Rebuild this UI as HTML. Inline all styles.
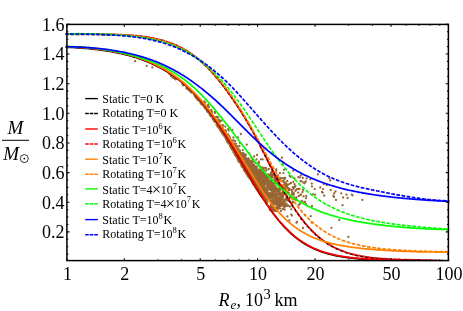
<!DOCTYPE html><html><head><meta charset="utf-8"><title>plot</title><style>html,body{margin:0;padding:0;background:#fff;width:463px;height:311px;overflow:hidden}</style></head><body><svg width="463" height="311" viewBox="0 0 463 311" style="position:absolute;left:0;top:0;display:block;will-change:transform">
<rect width="463" height="311" fill="#fff"/>
<defs><clipPath id="c"><rect x="65.3" y="24.4" width="384.3" height="236.2"/></clipPath></defs>
<g clip-path="url(#c)">
<path d="M237.6 156.0L238.8 158.0L239.9 160.0L241.1 162.0L242.2 164.0L243.4 166.0L244.5 168.0L245.7 170.0L246.8 172.0L248.0 174.0L249.1 176.0L250.3 178.0L251.4 180.0L252.6 182.0L253.8 184.0L255.0 186.0L256.2 188.0L257.4 190.0L258.6 192.0L259.8 194.0L261.1 196.0L262.4 198.0L266.2 198.0L267.5 196.0L268.4 194.0L268.1 192.0L266.7 190.0L265.4 188.0L264.0 186.0L262.7 184.0L261.2 182.0L259.6 180.0L258.1 178.0L256.5 176.0L255.0 174.0L253.5 172.0L251.9 170.0L250.3 168.0L248.7 166.0L247.1 164.0L245.5 162.0L243.9 160.0L242.3 158.0L240.7 156.0Z" fill="#996633"/>
<path d="M135.0 61.2h0M146.8 65.8h0M152.3 67.4h0M172.4 77.5h0M169.5 74.0h0M171.0 75.9h0M174.2 78.2h0M175.8 79.4h0M174.7 78.8h0M182.8 84.9h0M183.0 84.8h0M183.4 85.3h0M182.5 83.9h0M186.5 88.3h0M186.6 88.2h0M187.4 88.3h0M187.6 89.2h0M186.7 88.7h0M190.0 90.9h0M189.2 90.5h0M191.5 92.4h0M191.0 92.4h0M190.1 91.1h0M193.9 94.1h0M195.2 95.3h0M194.7 94.8h0M194.5 95.4h0M195.1 96.5h0M198.1 98.8h0M196.1 97.8h0M196.2 97.3h0M196.3 97.2h0M197.5 98.8h0M218.6 126.9h0M204.8 106.2h0M220.6 131.0h0M243.0 166.1h0M258.1 191.5h0M237.2 158.0h0M217.9 123.9h0M240.3 161.0h0M238.1 158.2h0M249.5 177.3h0M233.2 149.2h0M254.6 185.5h0M226.3 137.9h0M216.9 125.5h0M232.0 147.8h0M255.1 186.6h0M243.9 167.5h0M231.2 145.4h0M231.2 145.8h0M238.2 160.3h0M226.9 141.0h0M234.4 150.9h0M258.1 191.2h0M255.6 187.5h0M250.1 178.7h0M207.9 110.2h0M235.0 151.4h0M222.3 133.2h0M254.8 185.5h0M220.0 128.1h0M255.3 187.4h0M214.5 120.9h0M226.4 138.4h0M257.2 190.2h0M235.1 155.2h0M255.7 187.5h0M232.1 149.7h0M214.2 119.9h0M243.0 166.4h0M230.9 148.1h0M230.5 146.5h0M208.7 111.1h0M208.4 111.9h0M255.6 187.2h0M257.1 189.8h0M257.6 190.7h0M222.9 132.3h0M200.7 102.4h0M234.5 151.2h0M244.2 168.7h0M238.2 160.2h0M201.0 103.1h0M214.9 120.4h0M242.8 165.8h0M201.5 103.3h0M250.6 179.3h0M258.9 193.0h0M216.0 121.8h0M200.6 103.2h0M258.7 192.1h0M245.3 171.7h0M227.4 141.6h0M230.3 143.9h0M254.7 185.9h0M221.9 132.2h0M201.7 103.1h0M238.1 156.9h0M219.1 128.0h0M241.0 163.4h0M256.8 189.0h0M223.7 132.6h0M215.5 121.7h0M202.0 103.1h0M249.2 177.8h0M204.3 105.5h0M257.2 189.4h0M241.4 165.8h0M254.5 185.5h0M248.1 176.2h0M211.6 116.3h0M209.8 114.9h0M257.2 190.3h0M219.3 125.9h0M247.6 173.9h0M211.1 114.4h0M217.8 126.7h0M240.1 162.7h0M214.6 121.8h0M244.0 170.2h0M252.1 182.4h0M219.3 128.8h0M217.8 126.7h0M199.2 100.7h0M225.6 138.6h0M201.4 104.3h0M235.1 153.2h0M241.9 164.0h0M234.3 152.6h0M237.7 156.0h0M236.9 155.6h0M254.0 184.7h0M231.9 149.0h0M252.0 180.7h0M222.5 131.8h0M208.6 111.5h0M213.5 119.3h0M246.8 174.2h0M214.4 120.0h0M245.6 172.2h0M254.0 184.7h0M233.3 150.3h0M208.8 111.7h0M238.4 157.9h0M222.9 134.4h0M254.1 185.2h0M214.5 119.5h0M214.6 120.5h0M230.0 144.3h0M231.5 145.4h0M211.1 116.0h0M222.6 133.9h0M240.0 162.1h0M230.0 143.2h0M202.2 103.7h0M226.6 137.9h0M226.7 137.9h0M228.3 141.0h0M198.2 100.3h0M216.5 124.3h0M256.6 189.2h0M252.2 182.8h0M256.5 188.3h0M245.9 170.9h0M228.1 139.7h0M256.4 188.0h0M218.6 126.9h0M236.3 154.9h0M235.6 154.4h0M226.6 140.3h0M216.2 122.0h0M221.4 129.7h0M238.1 159.7h0M219.0 125.3h0M220.8 131.2h0M222.6 132.0h0M221.5 129.2h0M249.9 177.5h0M234.4 150.4h0M197.9 99.8h0M245.3 169.2h0M232.0 146.2h0M246.3 172.8h0M231.2 145.5h0M220.0 127.8h0M249.7 178.6h0M210.7 114.6h0M217.0 124.7h0M230.4 144.5h0M251.8 180.5h0M207.3 109.1h0M220.5 130.5h0M233.5 149.1h0M241.7 163.1h0M206.4 108.1h0M245.1 170.5h0M233.6 151.5h0M231.8 147.6h0M223.6 134.6h0M219.8 128.2h0M252.9 183.5h0M259.4 193.4h0M211.4 114.8h0M213.5 118.3h0M239.0 162.0h0M245.8 171.4h0M248.9 177.0h0M219.8 127.0h0M212.6 118.1h0M202.6 105.0h0M224.4 134.1h0M233.3 152.0h0M252.2 181.8h0M200.3 101.2h0M204.0 106.6h0M238.4 160.7h0M239.6 162.4h0M206.8 109.9h0M205.9 107.3h0M199.5 100.7h0M238.9 160.3h0M216.9 124.9h0M215.8 121.1h0M240.1 161.8h0M206.4 109.6h0M232.5 149.5h0M205.5 106.7h0M201.7 104.3h0M241.1 162.2h0M246.7 174.0h0M227.8 142.4h0M224.9 136.6h0M242.0 165.3h0M203.7 105.3h0M217.8 124.7h0M253.6 184.9h0M256.6 189.1h0M200.4 101.7h0M197.7 98.3h0M245.0 171.7h0M227.1 141.4h0M244.8 171.2h0M237.8 159.7h0M228.2 141.0h0M241.8 166.2h0M236.3 156.0h0M197.5 99.5h0M228.3 142.7h0M252.3 182.7h0M246.1 172.9h0M239.3 160.9h0M237.2 157.7h0M249.4 176.4h0M218.6 126.0h0M224.0 135.8h0M239.1 158.5h0M249.3 176.8h0M220.0 128.9h0M210.3 114.2h0M218.1 124.1h0M228.1 140.1h0M204.7 107.5h0M237.9 158.3h0M253.4 184.1h0M220.6 130.9h0M256.8 189.8h0M226.7 138.3h0M232.0 149.4h0M258.4 191.8h0M242.2 166.2h0M232.1 146.5h0M245.3 170.4h0M228.3 143.4h0M242.3 167.3h0M214.1 119.3h0M204.0 105.4h0M235.3 155.5h0M232.2 148.3h0M227.5 142.2h0M207.6 109.3h0M255.7 187.7h0M206.6 108.7h0M258.1 190.9h0M220.1 128.5h0M216.7 125.1h0M256.2 188.2h0M257.6 190.2h0M241.5 165.3h0M256.8 189.7h0M210.0 114.8h0M251.4 180.2h0M236.8 157.3h0M218.0 126.4h0M236.3 155.3h0M205.3 108.5h0M248.1 174.0h0M239.4 159.6h0M206.0 108.3h0M212.7 119.1h0M217.9 126.0h0M228.9 143.5h0M213.7 120.1h0M218.2 126.6h0M234.7 150.9h0M207.7 112.1h0M244.6 170.3h0M228.6 141.3h0M225.2 137.1h0M235.1 153.1h0M210.5 113.1h0M252.9 183.6h0M206.7 109.1h0M233.2 150.5h0M257.5 190.6h0M207.1 111.4h0M241.8 165.1h0M258.3 191.6h0M259.8 193.6h0M222.8 131.4h0M237.3 158.1h0M256.5 188.5h0M237.7 158.0h0M252.5 181.8h0M241.1 165.0h0M200.9 101.5h0M221.1 131.2h0M253.4 183.8h0M228.5 143.0h0M227.3 139.7h0M218.1 127.3h0M209.5 113.3h0M240.5 162.2h0M224.9 136.0h0M252.9 182.7h0M200.3 102.1h0M252.6 181.9h0M205.4 106.9h0M248.5 177.1h0M229.1 142.0h0M243.7 169.1h0M229.0 141.3h0M209.2 113.2h0M256.9 189.0h0M239.1 159.7h0M213.7 118.6h0M236.0 155.3h0M214.2 118.1h0M225.7 136.6h0M235.6 155.1h0M236.4 156.6h0M205.1 108.4h0M211.7 116.5h0M227.9 142.0h0M231.9 147.6h0M251.4 180.3h0M234.4 153.4h0M248.6 175.9h0M224.1 133.5h0M210.5 116.0h0M218.5 124.9h0M198.6 100.4h0M223.5 133.0h0M237.6 159.0h0M250.1 178.8h0M213.7 120.5h0M242.1 165.8h0M244.3 170.2h0M241.5 164.4h0M257.3 190.5h0M235.5 153.7h0M226.6 140.6h0M232.6 149.5h0M196.6 98.5h0M198.8 98.6h0M230.8 145.4h0M222.7 134.2h0M208.3 111.0h0M222.2 132.0h0M238.9 159.6h0M233.2 148.2h0M225.9 136.1h0M246.1 171.9h0M201.8 103.1h0M252.4 183.1h0M241.2 163.2h0M227.0 138.3h0M242.4 164.4h0M256.2 188.2h0M238.4 160.9h0M239.3 162.2h0M242.0 165.4h0M254.6 185.9h0M252.9 183.4h0M217.0 124.8h0M200.0 100.2h0M216.5 124.7h0M222.0 132.9h0M215.6 121.8h0M228.8 141.9h0M256.0 188.0h0M211.6 116.2h0M224.3 134.6h0M250.3 178.0h0M207.0 110.6h0M221.3 131.8h0M233.4 150.9h0M246.4 171.9h0M251.5 180.7h0M216.8 122.6h0M256.6 189.4h0M227.6 139.7h0M207.8 110.6h0M209.2 113.3h0M226.7 140.0h0M248.6 175.9h0M203.6 104.6h0M213.7 118.9h0M247.4 175.0h0M249.5 177.0h0M212.6 117.2h0M202.3 103.4h0M239.7 160.8h0M247.7 174.2h0M201.3 102.8h0M231.4 148.2h0M207.5 111.6h0M237.2 155.7h0M206.7 108.8h0M207.9 110.7h0M232.7 149.9h0M256.4 188.9h0M199.0 100.7h0M205.8 107.5h0M213.1 117.4h0M247.9 176.2h0M214.9 121.1h0M216.5 124.1h0M227.4 139.2h0M251.0 180.3h0M218.1 124.9h0M229.2 143.3h0M229.5 143.6h0M230.0 146.0h0M228.0 140.8h0M247.7 175.3h0M212.8 117.2h0M230.8 146.4h0M206.7 110.6h0M252.3 181.6h0M226.7 138.8h0M259.5 193.8h0M240.1 143.0h0M239.4 145.9h0M225.9 131.3h0M218.3 119.4h0M208.2 107.4h0M235.2 145.0h0M208.0 106.0h0M236.3 148.5h0M238.4 148.3h0M237.4 149.4h0M231.4 140.5h0M228.1 134.4h0M219.2 120.2h0M234.3 143.3h0M225.7 130.2h0M225.3 126.6h0M208.9 107.0h0M208.0 106.2h0M227.6 135.1h0M208.0 107.2h0M229.5 136.5h0M219.4 122.6h0M208.7 106.7h0M228.3 129.2h0M235.2 141.1h0M239.3 151.5h0M214.9 112.9h0M220.0 120.4h0M222.5 125.2h0M223.1 125.3h0M212.1 112.3h0M215.4 117.1h0M208.3 104.6h0M232.4 129.8h0M240.0 151.8h0M208.3 106.5h0M233.4 137.5h0M222.6 127.4h0M217.5 117.0h0M218.2 117.3h0M238.0 151.3h0M207.5 105.6h0M228.6 130.6h0M229.7 127.9h0M237.7 149.1h0M210.8 110.6h0M204.3 101.5h0M237.3 146.1h0M216.4 116.9h0M219.2 121.3h0M207.2 106.2h0M215.0 111.8h0M212.1 111.8h0M227.6 135.4h0M207.9 107.0h0M211.2 109.9h0M218.1 120.9h0M220.8 120.9h0M205.3 102.5h0M237.4 151.9h0M236.0 143.8h0M231.7 140.5h0M229.1 136.5h0M221.6 120.6h0M227.2 134.7h0M234.3 143.7h0M237.9 137.4h0M234.2 145.9h0M233.5 140.5h0M230.0 138.1h0M243.3 156.3h0M261.7 178.0h0M233.3 146.6h0M252.0 167.8h0M259.0 177.7h0M250.7 161.6h0M251.7 168.2h0M235.3 149.5h0M231.4 145.0h0M267.7 183.3h0M238.6 154.3h0M235.2 149.9h0M244.7 166.9h0M243.9 156.3h0M242.4 161.8h0M275.2 203.9h0M259.6 177.1h0M259.4 171.1h0M229.8 141.5h0M247.7 164.8h0M279.1 201.8h0M265.5 189.9h0M238.3 151.7h0M265.8 179.2h0M275.9 195.0h0M281.4 199.5h0M256.5 169.5h0M253.8 170.2h0M279.6 201.2h0M238.9 151.6h0M247.5 162.1h0M250.7 170.4h0M255.4 174.5h0M247.6 164.2h0M238.7 157.6h0M247.4 160.5h0M273.1 201.7h0M270.2 182.5h0M263.6 195.4h0M245.9 165.5h0M249.5 164.6h0M256.8 170.1h0M276.4 210.1h0M246.0 161.1h0M246.7 162.8h0M250.9 171.0h0M244.3 163.2h0M263.2 187.4h0M230.9 144.1h0M276.7 193.2h0M243.4 160.9h0M255.9 181.4h0M230.1 141.6h0M266.8 197.8h0M270.9 189.6h0M263.0 196.8h0M276.4 192.9h0M247.6 172.0h0M273.5 202.9h0M251.9 165.2h0M244.4 166.4h0M270.9 197.6h0M238.6 155.9h0M280.1 195.6h0M254.2 177.6h0M250.4 174.5h0M251.8 166.2h0M271.5 193.5h0M264.5 187.9h0M249.2 171.5h0M275.7 197.5h0M266.2 177.6h0M274.9 208.4h0M264.0 195.1h0M244.4 163.9h0M229.4 141.5h0M245.4 158.9h0M247.9 168.6h0M279.8 197.4h0M233.7 145.3h0M272.3 196.9h0M231.5 145.2h0M267.8 178.2h0M240.2 153.2h0M255.1 172.1h0M252.5 172.4h0M277.3 204.0h0M251.8 168.0h0M253.5 180.0h0M250.8 174.6h0M230.5 141.4h0M273.2 190.9h0M260.1 173.2h0M244.6 159.1h0M272.4 193.8h0M274.7 208.9h0M266.7 193.7h0M245.4 163.3h0M249.3 163.8h0M266.7 196.5h0M276.0 207.8h0M247.2 161.7h0M253.8 177.8h0M252.2 172.8h0M269.1 197.3h0M248.3 164.3h0M238.7 152.6h0M277.3 210.9h0M245.8 161.9h0M241.8 160.4h0M252.0 167.9h0M253.4 165.4h0M278.3 194.2h0M275.4 199.4h0M249.8 167.5h0M239.5 151.6h0M269.6 194.5h0M242.9 160.8h0M274.4 194.0h0M265.8 198.0h0M272.1 202.9h0M273.8 187.7h0M231.1 142.2h0M236.5 149.6h0M259.6 183.0h0M252.4 166.2h0M238.5 154.1h0M278.3 197.4h0M247.6 164.7h0M257.9 176.3h0M255.8 184.8h0M252.8 176.9h0M268.2 182.2h0M265.4 194.8h0M261.7 178.6h0M234.8 148.6h0M245.7 158.9h0M246.5 164.6h0M273.4 203.9h0M256.7 181.4h0M266.8 181.9h0M258.7 190.0h0M254.3 172.4h0M264.9 176.7h0M244.6 164.8h0M278.2 191.1h0M236.5 147.7h0M259.9 173.5h0M250.9 165.1h0M268.1 182.4h0M258.9 171.3h0M246.5 161.1h0M242.3 156.2h0M266.8 182.4h0M283.7 201.7h0M265.2 194.5h0M237.6 148.8h0M253.2 180.3h0M265.9 182.3h0M271.0 198.6h0M252.4 166.8h0M268.7 181.9h0M244.0 162.6h0M241.9 160.5h0M281.1 197.3h0M269.2 180.9h0M244.6 157.6h0M256.6 175.7h0M251.7 174.8h0M274.8 208.9h0M267.9 196.8h0M259.5 182.6h0M263.0 184.4h0M251.4 167.5h0M249.5 169.6h0M252.2 165.2h0M280.7 197.6h0M234.5 147.6h0M230.8 140.5h0M277.5 201.5h0M261.9 191.4h0M277.4 189.1h0M273.6 202.3h0M240.6 160.8h0M273.6 210.4h0M253.0 168.9h0M279.5 198.2h0M242.2 157.7h0M230.9 142.8h0M259.6 178.8h0M256.6 167.7h0M251.2 163.0h0M252.5 169.3h0M250.1 173.5h0M254.0 178.3h0M255.4 187.1h0M276.9 189.2h0M261.2 176.6h0M261.0 188.9h0M231.8 145.6h0M243.4 162.7h0M254.5 168.0h0M276.3 203.0h0M244.0 158.5h0M280.3 205.3h0M254.4 169.0h0M252.2 177.8h0M251.4 177.1h0M269.2 181.3h0M250.2 171.0h0M236.8 151.7h0M280.1 193.4h0M277.0 208.5h0M236.3 149.0h0M254.6 180.9h0M273.0 210.0h0M265.1 175.5h0M265.2 180.5h0M250.0 176.9h0M276.9 189.4h0M239.3 157.0h0M267.2 202.1h0M274.7 190.1h0M230.4 144.2h0M272.0 205.7h0M268.7 182.2h0M257.0 181.6h0M267.6 187.1h0M254.3 167.7h0M248.9 164.7h0M238.8 154.7h0M273.7 193.1h0M241.8 157.0h0M276.6 198.9h0M271.4 186.6h0M261.7 193.2h0M258.4 189.3h0M252.2 169.6h0M251.6 170.8h0M233.1 147.3h0M242.2 159.5h0M263.9 181.6h0M230.2 143.6h0M258.7 184.5h0M253.2 165.5h0M269.6 182.2h0M277.2 197.8h0M232.9 145.8h0M278.1 194.8h0M267.5 189.5h0M251.5 168.2h0M261.7 187.8h0M267.5 179.4h0M274.4 200.2h0M247.1 165.7h0M264.9 191.4h0M264.8 176.3h0M257.7 181.3h0M256.7 170.1h0M239.6 158.9h0M266.0 193.3h0M278.2 190.8h0M259.8 170.8h0M276.7 205.2h0M236.9 153.6h0M269.8 196.0h0M275.3 202.7h0M239.2 154.4h0M249.8 163.6h0M249.3 163.0h0M277.5 209.3h0M237.6 149.4h0M267.7 188.8h0M231.1 143.5h0M264.9 187.9h0M257.2 174.0h0M272.9 200.2h0M277.1 198.6h0M228.2 142.3h0M272.4 205.8h0M270.4 186.2h0M264.0 185.4h0M253.9 166.8h0M283.5 199.8h0M260.9 176.0h0M271.0 209.9h0M243.0 163.1h0M270.5 198.4h0M237.0 149.4h0M268.6 181.5h0M266.7 181.0h0M255.6 170.8h0M253.2 178.5h0M255.1 168.9h0M237.5 153.2h0M270.0 196.8h0M270.8 181.9h0M237.5 151.7h0M258.6 180.8h0M267.7 179.5h0M250.1 170.9h0M277.7 208.0h0M250.9 165.6h0M280.9 199.3h0M253.8 169.0h0M263.8 189.7h0M238.3 154.1h0M277.1 197.4h0M264.8 179.9h0M244.5 164.5h0M260.3 176.7h0M267.5 193.0h0M244.4 162.7h0M250.3 175.8h0M246.9 159.5h0M276.2 200.8h0M237.8 154.0h0M234.4 146.3h0M245.6 163.2h0M267.1 180.3h0M252.9 179.3h0M231.5 145.6h0M251.2 168.9h0M263.8 177.7h0M268.2 180.9h0M277.7 207.7h0M237.6 152.4h0M258.1 177.3h0M241.0 155.0h0M232.1 145.5h0M267.4 198.1h0M277.2 196.1h0M266.2 182.7h0M270.0 207.5h0M255.0 166.4h0M268.0 183.3h0M254.5 176.1h0M258.8 190.2h0M257.4 187.2h0M243.5 164.0h0M258.9 180.9h0M240.6 156.7h0M237.5 152.4h0M277.0 199.9h0M264.4 180.3h0M230.1 141.7h0M273.5 191.1h0M250.9 165.3h0M275.7 191.7h0M245.0 166.8h0M241.1 156.7h0M247.9 161.3h0M245.5 164.8h0M269.9 182.2h0M246.7 165.7h0M269.5 188.5h0M232.1 145.0h0M271.1 195.0h0M261.9 177.8h0M280.4 203.2h0M281.7 202.5h0M247.0 164.6h0M254.6 167.8h0M276.8 210.8h0M256.3 181.6h0M235.7 147.9h0M247.8 160.6h0M266.6 186.6h0M273.4 184.8h0M261.6 172.3h0M250.1 162.7h0M281.4 200.4h0M247.0 161.9h0M234.5 148.0h0M245.9 168.9h0M257.3 179.7h0M258.3 182.4h0M242.4 164.0h0M247.5 167.2h0M252.8 170.4h0M261.0 195.0h0M255.4 167.2h0M253.5 167.7h0M236.5 153.9h0M269.9 189.8h0M270.7 189.4h0M238.1 155.4h0M261.6 179.4h0M266.4 191.0h0M274.6 188.5h0M271.1 187.5h0M259.0 174.7h0M270.4 199.1h0M256.2 172.4h0M230.4 140.3h0M270.7 188.2h0M273.4 193.4h0M261.8 178.8h0M242.8 161.6h0M266.2 180.7h0M271.5 208.2h0M271.2 195.9h0M275.4 210.9h0M253.7 176.9h0M249.2 171.9h0M267.9 198.6h0M269.9 196.0h0M277.4 200.7h0M261.6 181.4h0M249.4 161.3h0M244.7 160.8h0M248.0 160.0h0M268.7 183.7h0M245.2 158.1h0M233.2 144.9h0M269.6 188.6h0M229.2 141.5h0M279.7 191.5h0M246.3 169.4h0M258.5 186.8h0M256.2 182.6h0M234.3 147.6h0M257.4 173.2h0M245.6 163.1h0M234.4 147.1h0M270.7 196.8h0M258.3 179.4h0M243.7 159.7h0M257.2 178.4h0M242.3 160.5h0M241.3 154.8h0M261.8 175.1h0M261.4 181.7h0M240.7 156.2h0M270.0 207.2h0M258.4 176.7h0M237.6 153.3h0M255.4 184.1h0M259.8 181.9h0M238.2 155.5h0M251.8 166.9h0M246.4 161.0h0M273.2 197.6h0M266.6 180.7h0M250.9 162.5h0M249.1 170.8h0M239.1 152.4h0M245.7 162.2h0M252.8 172.6h0M260.1 179.3h0M243.0 155.0h0M253.2 167.5h0M231.2 142.5h0M240.9 152.8h0M231.3 143.1h0M232.1 145.2h0M267.4 178.7h0M270.7 182.9h0M281.0 204.8h0M255.1 174.8h0M256.5 184.5h0M235.1 147.6h0M236.9 154.2h0M267.5 180.1h0M261.2 190.7h0M263.2 191.5h0M260.4 185.7h0M271.0 197.3h0M247.1 170.6h0M261.8 174.6h0M246.9 172.5h0M249.6 175.7h0M262.1 180.9h0M253.7 170.4h0M251.8 171.1h0M261.9 176.0h0M262.0 180.7h0M246.9 162.0h0M253.5 174.0h0M270.9 204.1h0M261.9 192.1h0M229.7 140.9h0M265.5 194.7h0M240.5 156.9h0M258.5 175.3h0M230.2 141.0h0M279.5 198.0h0M278.1 191.2h0M232.8 145.2h0M254.9 180.9h0M232.6 144.8h0M249.7 162.6h0M242.0 161.0h0M250.3 171.3h0M281.8 196.7h0M273.4 184.1h0M283.2 197.0h0M235.4 150.2h0M270.0 181.3h0M251.9 169.5h0M261.3 179.5h0M263.8 186.8h0M279.1 194.6h0M236.4 150.4h0M243.1 162.1h0M267.0 197.1h0M266.1 199.2h0M242.7 156.3h0M250.3 166.9h0M250.9 178.3h0M262.7 179.6h0M263.9 192.2h0M271.5 189.8h0M269.9 201.1h0M265.8 198.4h0M280.0 206.0h0M245.9 161.2h0M280.3 193.1h0M275.3 189.5h0M239.3 155.0h0M267.9 186.1h0M279.8 192.8h0M254.5 173.3h0M236.9 149.9h0M270.5 206.7h0M246.2 166.2h0M255.1 170.7h0M265.3 188.0h0M233.5 147.3h0M233.9 146.0h0M250.2 166.1h0M272.0 182.7h0M281.7 202.1h0M255.3 176.3h0M237.0 152.7h0M229.4 140.0h0M273.4 199.1h0M276.3 194.6h0M273.8 191.9h0M252.4 167.1h0M241.7 158.6h0M269.8 196.3h0M247.7 170.5h0M255.5 175.1h0M240.3 153.4h0M274.1 197.1h0M266.7 178.3h0M270.8 206.9h0M251.9 173.2h0M242.5 162.2h0M267.6 191.0h0M279.3 191.6h0M256.7 171.8h0M276.2 200.0h0M259.6 170.8h0M243.5 163.0h0M233.8 149.0h0M272.3 202.7h0M244.4 159.2h0M281.4 197.0h0M279.2 203.4h0M267.3 198.5h0M265.7 197.4h0M234.4 146.8h0M271.5 204.5h0M266.8 192.3h0M253.9 175.2h0M239.7 153.6h0M255.2 168.5h0M241.4 156.2h0M282.1 197.6h0M237.3 150.2h0M235.5 148.3h0M252.9 170.2h0M237.9 150.6h0M247.0 159.0h0M253.2 175.4h0M248.5 160.5h0M257.9 174.3h0M235.8 147.8h0M254.9 172.8h0M256.6 174.0h0M237.8 153.9h0M281.5 195.0h0M247.6 162.1h0M239.2 158.1h0M243.9 158.5h0M271.3 209.3h0M261.2 196.4h0M256.6 173.8h0M281.9 196.8h0M268.4 181.8h0M270.0 186.9h0M243.1 160.0h0M276.8 191.3h0M260.1 174.1h0M253.8 174.8h0M273.2 207.3h0M251.5 177.8h0M273.2 183.6h0M261.9 173.3h0M274.5 201.5h0M255.5 183.6h0M241.1 161.2h0M239.0 155.2h0M254.0 171.1h0M277.5 198.3h0M273.1 198.2h0M259.2 170.9h0M238.5 153.4h0M255.3 170.8h0M253.6 168.3h0M280.7 204.5h0M264.0 198.7h0M274.9 188.1h0M273.8 185.8h0M262.0 185.4h0M271.6 189.4h0M275.8 197.3h0M256.5 177.3h0M277.0 195.8h0M265.2 189.8h0M264.8 181.5h0M281.6 193.7h0M269.6 184.2h0M242.9 160.2h0M265.8 199.3h0M262.1 174.3h0M250.2 168.3h0M267.2 186.5h0M237.2 154.6h0M271.4 209.5h0M266.2 179.3h0M243.8 163.4h0M265.0 183.9h0M272.4 209.2h0M256.4 171.5h0M259.6 170.6h0M273.1 205.2h0M241.9 160.4h0M262.4 192.3h0M242.6 157.5h0M249.3 169.2h0M252.0 179.0h0M254.2 176.5h0M242.3 155.9h0M267.8 189.0h0M268.8 199.8h0M279.2 201.8h0M271.7 188.6h0M252.2 166.2h0M245.4 167.5h0M240.7 159.1h0M241.1 160.9h0M239.9 155.4h0M244.7 165.0h0M278.9 205.9h0M281.8 205.5h0M251.2 163.3h0M271.5 200.8h0M258.2 173.8h0M245.7 165.6h0M277.5 209.4h0M247.1 167.1h0M272.0 188.7h0M250.5 166.4h0M268.1 198.1h0M269.4 197.0h0M238.8 150.2h0M268.0 184.7h0M254.8 171.2h0M232.3 146.2h0M246.0 165.7h0M273.9 195.2h0M259.4 183.8h0M266.5 200.7h0M233.4 146.3h0M267.2 178.1h0M239.3 154.5h0M279.0 199.7h0M265.8 194.9h0M240.2 159.5h0M255.9 169.0h0M271.6 206.8h0M263.7 194.9h0M273.9 209.5h0M245.6 157.7h0M283.2 204.3h0M259.8 194.6h0M249.1 162.4h0M248.0 162.9h0M245.8 162.6h0M274.6 188.1h0M242.4 164.2h0M259.0 171.8h0M237.9 153.4h0M264.5 179.6h0M266.3 203.5h0M237.5 153.4h0M255.0 172.5h0M270.2 185.3h0M253.2 169.7h0M235.4 146.3h0M258.1 177.6h0M267.0 177.9h0M266.5 183.8h0M237.1 150.8h0M251.9 165.7h0M277.1 194.4h0M279.3 193.3h0M275.0 196.4h0M244.9 162.9h0M248.0 160.9h0M250.6 174.1h0M273.8 195.3h0M253.9 177.3h0M271.7 184.0h0M253.5 175.2h0M253.0 170.8h0M267.3 193.5h0M259.5 175.3h0M271.1 202.7h0M265.0 182.4h0M257.6 170.0h0M278.8 199.3h0M248.9 173.4h0M258.8 189.3h0M268.7 185.2h0M260.1 179.4h0M236.6 151.1h0M236.6 149.8h0M235.8 147.0h0M253.7 175.1h0M249.2 162.6h0M274.1 197.1h0M247.4 166.2h0M263.0 175.2h0M249.9 166.7h0M280.2 199.4h0M244.9 162.7h0M241.9 155.6h0M243.0 164.0h0M262.1 192.9h0M242.1 155.0h0M243.9 166.4h0M282.4 198.6h0M270.1 189.9h0M236.2 153.7h0M276.9 197.5h0M275.0 201.7h0M255.3 169.7h0M267.5 193.3h0M263.5 193.5h0M239.6 155.8h0M239.3 159.1h0M255.2 184.8h0M261.5 189.8h0M259.8 189.9h0M269.2 182.3h0M257.6 171.3h0M272.8 197.7h0M277.8 203.3h0M238.8 153.9h0M262.9 182.0h0M261.3 176.5h0M255.3 173.5h0M231.3 142.9h0M242.2 158.6h0M239.8 158.1h0M253.2 166.6h0M270.3 182.5h0M276.2 196.3h0M234.1 145.8h0M243.5 161.9h0M270.8 193.7h0M249.4 161.5h0M242.4 155.7h0M252.2 174.0h0M263.5 175.7h0M271.8 191.0h0M242.2 158.8h0M280.6 206.0h0M278.6 203.6h0M275.0 197.1h0M249.8 164.9h0M250.9 169.6h0M233.1 146.1h0M279.4 194.4h0M261.8 184.5h0M280.8 193.5h0M272.6 188.3h0M246.5 169.9h0M254.9 182.4h0M256.5 180.7h0M236.8 151.2h0M242.9 156.6h0M243.6 157.7h0M264.4 183.4h0M255.4 179.0h0M245.0 164.7h0M259.8 180.0h0M266.7 197.8h0M261.4 172.6h0M271.0 193.2h0M255.6 177.3h0M261.3 178.8h0M238.8 152.2h0M267.0 198.5h0M244.5 161.8h0M278.5 208.2h0M242.8 159.2h0M273.1 191.5h0M237.5 151.1h0M263.9 199.0h0M243.5 158.7h0M230.5 144.2h0M249.5 163.8h0M252.7 166.2h0M248.1 160.5h0M239.0 156.1h0M268.4 180.4h0M245.0 162.8h0M256.5 173.6h0M272.7 185.3h0M258.8 175.0h0M271.9 190.7h0M234.0 145.2h0M236.0 150.9h0M229.3 140.5h0M279.9 199.7h0M246.0 168.8h0M251.9 165.7h0M257.6 183.0h0M249.1 163.5h0M243.6 162.1h0M255.6 175.9h0M256.1 167.7h0M255.5 182.9h0M245.4 161.4h0M273.0 208.2h0M230.6 144.5h0M244.6 157.3h0M282.1 198.4h0M245.4 166.3h0M267.5 186.6h0M261.3 185.7h0M230.5 142.3h0M241.7 157.9h0M281.4 202.9h0M246.2 159.7h0M238.1 154.0h0M238.3 153.6h0M257.8 182.1h0M242.1 156.4h0M249.2 161.4h0M264.1 182.7h0M259.6 175.5h0M243.0 156.4h0M265.6 176.3h0M257.2 172.6h0M272.1 184.9h0M274.2 210.0h0M270.1 210.0h0M262.0 193.7h0M245.7 168.5h0M266.8 203.4h0M256.7 183.1h0M273.5 200.2h0M265.6 178.7h0M279.3 198.7h0M263.1 198.3h0M255.1 166.7h0M250.5 176.8h0M244.1 162.5h0M279.1 203.0h0M279.3 201.1h0M275.5 194.4h0M265.1 196.1h0M279.7 203.5h0M251.7 171.3h0M274.9 185.9h0M257.0 170.4h0M268.1 193.5h0M272.3 186.2h0M246.4 165.2h0M249.9 172.2h0M242.8 161.8h0M275.1 189.7h0M255.3 169.4h0M239.4 154.2h0M273.3 191.7h0M246.9 161.3h0M245.5 160.6h0M260.6 187.0h0M241.0 154.4h0M268.6 180.2h0M267.5 179.4h0M256.0 172.3h0M260.7 176.3h0M278.2 197.3h0M253.3 164.8h0M279.0 198.8h0M266.7 180.5h0M253.4 181.8h0M233.8 145.4h0M238.8 155.1h0M267.4 182.9h0M245.7 165.9h0M256.8 170.1h0M276.5 209.6h0M267.1 183.3h0M277.7 204.9h0M240.0 158.6h0M247.3 159.9h0M267.9 197.5h0M262.9 174.3h0M277.1 196.9h0M276.7 199.4h0M241.3 154.2h0M256.3 169.6h0M269.4 207.0h0M271.0 202.4h0M241.0 158.9h0M283.4 202.5h0M236.0 153.1h0M265.2 200.2h0M268.5 184.6h0M238.9 156.0h0M279.3 197.7h0M238.3 155.0h0M245.7 158.4h0M261.4 182.9h0M264.1 184.7h0M239.4 152.7h0M256.7 178.9h0M272.5 185.8h0M247.5 164.3h0M236.0 150.1h0M253.9 168.9h0M269.5 193.0h0M229.2 141.7h0M276.4 200.0h0M247.8 161.0h0M254.1 164.7h0M246.2 167.9h0M264.2 181.3h0M263.8 189.0h0M261.3 173.3h0M241.9 154.7h0M255.2 182.0h0M254.2 174.9h0M235.8 152.7h0M252.7 176.6h0M252.1 168.9h0M263.3 191.4h0M282.7 196.9h0M258.3 181.7h0M253.4 165.4h0M258.9 176.8h0M255.8 168.8h0M281.0 195.6h0M260.4 174.1h0M256.1 184.4h0M277.2 205.8h0M268.6 195.3h0M271.8 189.0h0M239.8 156.1h0M260.1 175.9h0M249.7 167.9h0M277.0 205.9h0M248.3 163.1h0M271.8 202.6h0M249.2 173.1h0M232.8 143.9h0M279.6 194.3h0M275.8 195.0h0M255.1 178.6h0M242.3 156.1h0M253.3 176.5h0M273.4 199.7h0M264.6 194.5h0M246.7 168.9h0M245.5 168.1h0M254.8 170.4h0M246.5 167.4h0M236.8 154.8h0M255.1 173.1h0M253.3 165.6h0M243.1 155.6h0M266.8 201.9h0M253.7 183.8h0M257.6 174.6h0M234.9 148.2h0M247.7 166.3h0M265.5 184.4h0M272.8 198.0h0M271.8 182.9h0M262.9 174.6h0M276.2 187.5h0M277.0 196.6h0M252.5 179.2h0M253.9 169.3h0M270.4 210.3h0M278.1 202.0h0M271.4 182.3h0M270.1 185.2h0M237.4 151.4h0M238.0 154.0h0M261.3 174.2h0M232.4 144.4h0M246.9 169.3h0M279.4 198.6h0M263.2 193.7h0M244.1 166.8h0M252.3 170.3h0M266.5 191.1h0M263.7 174.7h0M259.4 174.6h0M257.9 187.1h0M236.3 152.2h0M252.2 164.0h0M263.5 189.0h0M278.4 207.0h0M253.5 166.4h0M257.5 173.5h0M237.2 151.7h0M278.6 198.1h0M230.1 142.0h0M265.7 194.5h0M230.1 141.8h0M273.1 210.5h0M274.6 209.9h0M233.7 146.3h0M244.0 163.2h0M273.5 189.3h0M235.2 146.9h0M272.2 206.0h0M261.5 182.5h0M245.6 158.5h0M252.3 167.7h0M264.8 188.4h0M250.7 167.0h0M261.4 180.2h0M282.1 197.5h0M252.6 175.6h0M238.4 151.8h0M271.2 186.4h0M255.1 184.1h0M237.5 151.7h0M264.0 175.5h0M250.2 162.8h0M256.7 176.9h0M255.2 182.1h0M230.0 141.2h0M245.7 159.2h0M231.3 141.2h0M273.6 187.4h0M250.6 165.3h0M270.6 190.1h0M237.4 151.6h0M262.8 176.6h0M231.6 141.9h0M256.9 168.7h0M267.1 192.7h0M278.5 201.7h0M270.4 189.4h0M230.0 140.1h0M253.6 165.0h0M249.8 166.9h0M280.0 203.7h0M242.5 154.6h0M253.2 182.1h0M266.9 180.6h0M260.0 184.1h0M270.8 205.1h0M241.2 155.6h0M247.3 169.4h0M272.1 200.8h0M256.0 186.7h0M278.7 207.7h0M258.0 183.1h0M233.9 148.9h0M252.2 172.3h0M256.9 182.1h0M245.5 159.1h0M268.9 193.5h0M247.9 162.5h0M250.1 166.4h0M235.9 152.6h0M264.6 177.4h0M268.9 186.9h0M264.8 197.7h0M255.0 179.6h0M239.1 156.7h0M262.3 177.3h0M272.9 194.3h0M272.5 208.3h0M255.5 186.3h0M281.3 196.2h0M277.4 206.8h0M271.3 196.2h0M272.5 195.9h0M240.8 158.1h0M249.1 164.8h0M272.4 197.8h0M248.2 168.6h0M264.0 186.7h0M243.7 158.8h0M269.9 207.1h0M231.6 142.5h0M275.8 200.9h0M264.8 191.7h0M280.6 195.8h0M255.4 176.3h0M257.4 176.2h0M261.2 179.8h0M251.0 167.8h0M258.3 185.4h0M267.4 196.2h0M271.6 188.8h0M251.1 165.1h0M266.1 196.1h0M264.9 191.2h0M271.9 191.2h0M264.8 184.5h0M257.5 173.0h0M251.4 173.2h0M254.7 170.3h0M232.4 145.0h0M239.9 157.8h0M251.5 175.2h0M272.9 196.7h0M271.8 205.3h0M259.0 171.6h0M251.3 174.6h0M261.7 190.2h0M268.7 195.2h0M247.1 162.3h0M270.3 184.3h0M238.1 151.9h0M274.6 188.3h0M253.0 175.1h0M254.9 166.6h0M265.3 193.0h0M269.9 184.5h0M236.9 153.7h0M270.9 196.4h0M266.9 191.3h0M247.9 167.0h0M248.6 164.1h0M266.0 177.3h0M265.6 193.9h0M259.2 177.9h0M267.0 194.3h0M242.2 162.8h0M277.6 195.0h0M243.5 162.4h0M273.9 208.7h0M280.6 202.7h0M244.1 160.1h0M258.7 190.9h0M254.1 174.1h0M276.3 191.1h0M243.1 164.7h0M274.3 200.3h0M273.8 186.0h0M277.2 206.3h0M244.9 158.1h0M235.1 149.4h0M256.7 168.7h0M252.9 168.2h0M257.1 172.9h0M275.4 196.7h0M275.3 208.5h0M253.4 169.2h0M271.7 188.9h0M278.8 192.1h0M232.9 145.1h0M239.6 154.5h0M238.5 155.1h0M244.5 157.1h0M266.2 191.5h0M282.7 199.3h0M261.6 179.2h0M262.7 193.6h0M255.7 175.2h0M257.3 183.6h0M243.8 157.9h0M253.4 176.4h0M250.0 164.5h0M253.0 172.9h0M236.3 150.5h0M263.2 173.8h0M246.9 162.2h0M265.1 191.1h0M258.1 184.8h0M249.9 170.3h0M251.7 164.1h0M276.9 210.9h0M265.6 197.0h0M272.7 194.1h0M248.2 170.5h0M265.1 191.9h0M267.0 183.5h0M258.8 179.2h0M238.0 155.0h0M236.2 150.6h0M254.4 180.4h0M231.4 142.4h0M247.7 166.8h0M245.6 161.7h0M259.3 177.6h0M262.9 193.0h0M241.6 162.2h0M242.2 158.2h0M271.7 187.5h0M263.1 189.6h0M263.0 183.2h0M230.7 141.3h0M249.6 175.1h0M268.6 183.4h0M266.7 180.6h0M243.0 156.3h0M242.8 161.3h0M265.8 182.9h0M242.7 160.5h0M234.9 147.4h0M280.0 206.2h0M263.0 183.8h0M244.0 157.2h0M241.8 158.8h0M259.5 177.9h0M278.3 200.9h0M267.9 196.8h0M228.8 140.4h0M253.9 182.3h0M275.0 210.9h0M257.9 173.4h0M262.7 187.6h0M257.0 181.5h0M240.9 155.5h0M249.7 165.3h0M241.9 156.2h0M267.5 199.1h0M235.0 147.4h0M269.1 195.4h0M266.6 182.1h0M257.9 175.4h0M251.6 176.3h0M229.4 140.4h0M256.6 172.5h0M256.3 171.0h0M268.0 179.7h0M254.1 182.1h0M250.1 163.5h0M261.2 183.3h0M252.2 179.3h0M270.4 181.6h0M258.7 170.5h0M244.9 165.1h0M252.4 176.6h0M231.9 143.8h0M258.0 183.4h0M240.4 154.9h0M279.1 201.6h0M272.0 192.2h0M269.9 188.1h0M235.4 149.3h0M253.4 173.6h0M251.9 169.0h0M231.6 143.1h0M248.5 168.4h0M274.1 206.5h0M246.9 169.6h0M258.9 182.3h0M281.5 199.0h0M257.6 177.1h0M255.7 178.5h0M259.5 180.4h0M271.3 183.2h0M271.1 205.8h0M250.3 171.7h0M240.3 159.9h0M240.3 156.3h0M241.5 157.8h0M249.1 162.7h0M266.3 177.7h0M259.7 170.2h0M239.7 155.5h0M265.7 189.1h0M267.8 197.0h0M246.7 165.8h0M256.9 171.2h0M270.9 186.7h0M256.5 185.3h0M282.0 205.2h0M259.8 187.7h0M252.2 175.9h0M264.5 194.6h0M244.4 167.1h0M274.0 209.7h0M253.5 174.6h0M268.4 195.2h0M271.4 209.3h0M262.3 175.4h0M247.1 160.7h0M249.2 164.2h0M279.1 205.6h0M254.3 173.9h0M280.0 195.1h0M282.3 203.1h0M263.3 180.0h0M239.5 152.0h0M242.9 158.9h0M255.9 182.5h0M272.1 195.4h0M233.7 148.0h0M260.6 186.4h0M280.1 200.8h0M241.9 160.3h0M267.5 185.6h0M261.1 171.8h0M282.3 202.5h0M239.3 153.9h0M260.8 185.3h0M236.7 151.0h0M257.5 169.5h0M246.9 164.1h0M292.6 194.7h0M270.1 177.2h0M243.3 153.2h0M283.1 208.7h0M251.4 157.6h0M254.2 156.4h0M278.1 175.3h0M283.7 194.8h0M251.1 161.2h0M270.9 173.1h0M253.2 161.8h0M282.6 190.3h0M293.0 201.9h0M283.2 193.8h0M267.3 175.4h0M249.2 153.3h0M284.7 193.2h0M258.7 163.9h0M275.2 183.3h0M271.1 178.3h0M249.2 160.0h0M267.9 176.0h0M243.6 153.3h0M282.6 209.1h0M282.4 189.0h0M280.4 177.9h0M280.2 187.8h0M291.3 209.3h0M243.7 154.5h0M258.8 161.7h0M280.0 208.4h0M250.6 161.5h0M282.7 191.8h0M252.4 159.9h0M270.4 178.1h0M262.4 172.3h0M306.2 204.1h0M264.2 173.3h0M288.4 199.1h0M282.0 193.7h0M292.0 194.0h0M275.3 180.6h0M260.9 167.7h0M263.0 172.2h0M261.8 169.9h0M262.9 172.6h0M279.5 188.8h0M284.7 205.1h0M248.5 159.8h0M244.7 155.2h0M256.0 166.4h0M282.0 193.1h0M284.7 193.5h0M270.2 174.6h0M284.2 186.0h0M287.1 200.1h0M268.4 177.4h0M284.6 207.0h0M271.2 180.7h0M245.9 154.6h0M290.0 196.7h0M286.0 198.5h0M279.1 189.9h0M284.5 179.2h0M263.1 168.7h0M244.9 154.7h0M277.7 183.9h0M283.3 205.9h0M271.1 172.9h0M242.7 150.2h0M270.5 178.4h0M248.5 158.4h0M259.7 169.7h0M285.2 201.4h0M259.8 166.4h0M280.0 189.7h0M284.7 204.0h0M240.0 151.3h0M239.5 150.3h0M289.2 200.5h0M285.2 199.2h0M285.2 184.8h0M285.2 206.4h0M274.7 182.4h0M287.1 205.9h0M278.2 179.0h0M262.6 159.4h0M241.4 153.2h0M252.4 162.4h0M262.1 168.4h0M256.8 166.7h0M283.4 204.8h0M255.6 162.8h0M283.7 204.6h0M263.7 173.5h0M268.8 169.0h0M271.4 174.5h0M288.0 205.7h0M278.3 188.7h0M245.4 156.0h0M286.5 203.7h0M271.7 180.5h0M270.9 177.2h0M284.1 192.1h0M243.9 155.6h0M320.3 187.5h0M291.2 214.6h0M294.5 184.1h0M299.8 177.6h0M284.0 169.8h0M299.4 189.1h0M294.2 197.4h0M301.1 194.3h0M300.8 175.4h0M281.4 188.8h0M284.9 193.4h0M278.1 177.8h0M314.8 189.1h0M298.5 188.9h0M291.7 190.1h0M284.6 185.2h0M294.3 178.5h0M295.3 199.5h0M284.7 182.6h0M276.3 169.3h0M259.0 162.7h0M293.3 194.6h0M289.5 183.9h0M284.7 190.6h0M300.8 175.6h0M298.8 204.9h0M286.6 186.9h0M284.7 188.1h0M300.3 195.2h0M292.0 215.6h0M284.7 209.7h0M271.8 171.5h0M287.8 192.9h0M274.1 180.1h0M272.7 175.5h0M277.8 176.4h0M286.8 196.5h0M276.9 178.4h0M305.3 181.9h0M285.5 188.9h0M279.9 173.1h0M303.6 182.7h0M290.0 206.5h0M283.8 189.3h0M302.5 192.0h0M285.6 185.6h0M293.2 170.7h0M290.3 189.6h0M281.9 185.4h0M293.3 181.8h0M290.6 176.8h0M275.0 176.1h0M288.0 200.7h0M292.7 201.7h0M283.0 181.0h0M306.2 196.0h0M326.7 185.1h0M277.2 182.8h0M305.8 181.4h0M274.3 177.6h0M323.1 189.1h0M301.8 181.4h0M278.1 180.1h0M287.0 188.2h0M285.1 177.9h0M289.9 195.6h0M303.5 196.4h0M288.9 198.5h0M296.1 198.2h0M272.3 177.5h0M304.5 183.3h0M280.2 179.3h0M289.1 188.6h0M287.3 216.4h0M288.7 190.3h0M292.4 202.9h0M287.3 185.8h0M276.1 171.1h0M277.0 175.6h0M286.1 189.1h0M299.5 189.0h0M292.1 191.9h0M296.5 197.3h0M278.8 185.5h0M306.6 178.5h0M271.4 175.6h0M277.9 183.5h0M266.4 169.4h0M271.8 173.0h0M277.0 179.0h0M294.4 199.2h0M333.5 196.0h0M275.3 178.9h0M271.2 173.2h0M289.6 175.8h0M298.2 192.7h0M282.1 188.8h0M263.9 170.5h0M278.3 184.0h0M324.2 195.7h0M256.5 159.4h0M298.3 177.1h0M293.6 193.0h0M261.1 168.4h0M279.2 184.4h0M286.0 194.1h0M262.0 167.4h0M303.1 189.9h0M273.5 174.3h0M271.6 167.4h0M288.0 188.1h0M295.0 186.3h0M270.5 177.4h0M293.7 194.0h0M275.7 180.7h0M329.4 178.2h0M277.1 178.6h0M310.4 179.3h0M330.7 190.0h0M283.5 187.2h0M286.4 183.8h0M279.6 185.2h0M306.0 198.2h0M295.4 190.9h0M268.2 174.5h0M297.1 189.2h0M263.4 169.2h0M275.1 175.3h0M266.3 170.7h0M288.7 192.9h0M301.8 201.0h0M287.8 184.9h0M294.0 194.4h0M283.6 186.6h0M289.0 190.2h0M285.7 205.3h0M284.5 192.2h0M296.4 189.8h0M312.8 194.4h0M315.1 194.7h0M300.1 203.7h0M265.8 167.8h0M280.7 178.6h0M296.6 200.2h0M283.8 181.4h0M283.5 173.1h0M312.0 186.4h0M304.2 201.9h0M274.1 172.9h0M334.1 193.4h0M280.1 180.2h0M288.2 193.6h0M285.6 182.7h0M311.8 183.6h0M286.5 191.1h0M291.4 198.0h0M293.4 189.1h0M292.7 187.1h0M284.3 183.1h0M289.1 189.4h0M322.8 192.6h0M335.5 191.5h0M293.1 187.6h0M310.7 216.2h0M302.8 177.9h0M300.6 181.2h0M295.4 185.9h0M275.5 176.7h0M284.2 186.6h0M264.1 167.9h0M294.8 187.3h0M277.7 182.6h0M265.8 155.7h0M305.1 201.9h0M269.7 176.2h0M287.3 181.0h0M291.0 182.9h0M285.1 192.1h0M273.5 175.1h0M298.8 196.1h0M271.0 177.0h0M279.4 184.8h0M282.6 178.1h0M283.7 178.3h0M276.9 181.0h0M282.2 186.6h0M240.9 134.0h0M246.7 144.7h0M257.1 155.0h0M261.0 159.3h0M281.9 157.7h0M282.7 164.3h0M317.9 174.4h0M330.2 180.5h0M323.7 184.0h0M341.2 193.3h0M346.5 194.6h0M351.8 194.6h0M342.6 205.2h0M362.3 199.9h0M352.6 195.3h0M280.9 211.0h0M289.3 220.3h0M297.0 222.0h0M311.8 222.5h0M331.5 227.8h0M348.3 236.9h0M301.0 218.6h0M303.0 228.0h0M296.5 222.7h0M339.2 220.0h0M312.0 206.0h0M305.0 215.0h0M322.0 192.0h0M334.0 197.0h0M336.0 200.0h0M343.0 197.5h0M347.6 198.0h0" stroke="#996633" stroke-width="2.3" stroke-linecap="round" fill="none"/>
<path d="M65.5 47.2L66.5 47.2L67.5 47.3L68.5 47.3L69.5 47.4L70.5 47.4L71.5 47.4L72.5 47.5L73.5 47.5L74.5 47.6L75.5 47.7L76.5 47.7L77.5 47.8L78.5 47.8L79.5 47.9L80.5 48.0L81.5 48.0L82.5 48.1L83.5 48.2L84.5 48.3L85.5 48.4L86.5 48.4L87.5 48.5L88.5 48.6L89.5 48.7L90.5 48.8L91.5 48.9L92.5 49.0L93.5 49.1L94.5 49.3L95.5 49.4L96.5 49.5L97.5 49.6L98.5 49.7L99.5 49.9L100.5 50.0L101.5 50.1L102.5 50.3L103.5 50.4L104.5 50.6L105.5 50.7L106.5 50.9L107.5 51.0L108.5 51.2L109.5 51.4L110.5 51.5L111.5 51.7L112.5 51.9L113.5 52.1L114.5 52.3L115.5 52.5L116.5 52.7L117.5 52.9L118.5 53.1L119.5 53.3L120.5 53.5L121.5 53.7L122.5 54.0L123.5 54.2L124.5 54.4L125.5 54.7L126.5 54.9L127.5 55.2L128.5 55.5L129.5 55.7L130.5 56.0L131.5 56.3L132.5 56.6L133.5 56.9L134.5 57.2L135.5 57.5L136.5 57.8L137.5 58.1L138.5 58.5L139.5 58.8L140.5 59.2L141.5 59.5L142.5 59.9L143.5 60.3L144.5 60.6L145.5 61.0L146.5 61.4L147.5 61.8L148.5 62.2L149.5 62.6L150.5 63.1L151.5 63.5L152.5 64.0L153.5 64.4L154.5 64.9L155.5 65.4L156.5 65.9L157.5 66.4L158.5 66.9L159.5 67.4L160.5 67.9L161.5 68.5L162.5 69.0L163.5 69.6L164.5 70.2L165.5 70.7L166.5 71.3L167.5 72.0L168.5 72.6L169.5 73.2L170.5 73.9L171.5 74.5L172.5 75.2L173.5 75.9L174.5 76.6L175.5 77.3L176.5 78.1L177.5 78.8L178.5 79.6L179.5 80.4L180.5 81.2L181.5 82.0L182.5 82.8L183.5 83.6L184.5 84.5L185.5 85.4L186.5 86.3L187.5 87.2L188.5 88.1L189.5 89.0L190.5 90.0L191.5 91.0L192.5 92.0L193.5 93.0L194.5 94.0L195.5 95.0L196.5 96.1L197.5 97.2L198.5 98.3L199.5 99.4L200.5 100.6L201.5 101.7L202.5 102.9L203.5 104.1L204.5 105.3L205.5 106.6L206.5 107.8L207.5 109.1L208.5 110.4L209.5 111.7L210.5 113.0L211.5 114.4L212.5 115.7L213.5 117.1L214.5 118.5L215.5 120.0L216.5 121.4L217.5 122.9L218.5 124.4L219.5 125.8L220.5 127.4L221.5 128.9L222.5 130.4L223.5 132.0L224.5 133.6L225.5 135.2L226.5 136.8L227.5 138.4L228.5 140.0L229.5 141.7L230.5 143.3L231.5 145.0L232.5 146.7L233.5 148.4L234.5 150.1L235.5 151.8L236.5 153.5L237.5 155.2L238.5 157.0L239.5 158.7L240.5 160.5L241.5 162.2L242.5 163.9L243.5 165.7L244.5 167.4L245.5 169.2L246.5 170.9L247.5 172.7L248.5 174.4L249.5 176.1L250.5 177.9L251.5 179.6L252.5 181.3L253.5 183.0L254.5 184.7L255.5 186.4L256.5 188.1L257.5 189.7L258.5 191.4L259.5 193.0L260.5 194.6L261.5 196.2L262.5 197.8L263.5 199.4L264.5 200.9L265.5 202.4L266.5 203.9L267.5 205.4L268.5 206.9L269.5 208.3L270.5 209.8L271.5 211.1L272.5 212.5L273.5 213.9L274.5 215.2L275.5 216.5L276.5 217.8L277.5 219.0L278.5 220.3L279.5 221.5L280.5 222.7L281.5 223.8L282.5 224.9L283.5 226.1L284.5 227.1L285.5 228.2L286.5 229.2L287.5 230.2L288.5 231.2L289.5 232.2L290.5 233.1L291.5 234.0L292.5 234.9L293.5 235.7L294.5 236.6L295.5 237.4L296.5 238.2L297.5 238.9L298.5 239.7L299.5 240.4L300.5 241.1L301.5 241.8L302.5 242.5L303.5 243.1L304.5 243.7L305.5 244.3L306.5 244.9L307.5 245.5L308.5 246.0L309.5 246.6L310.5 247.1L311.5 247.6L312.5 248.1L313.5 248.5L314.5 249.0L315.5 249.4L316.5 249.8L317.5 250.2L318.5 250.6L319.5 251.0L320.5 251.4L321.5 251.7L322.5 252.1L323.5 252.4L324.5 252.7L325.5 253.0L326.5 253.3L327.5 253.6L328.5 253.9L329.5 254.2L330.5 254.4L331.5 254.7L332.5 254.9L333.5 255.1L334.5 255.3L335.5 255.6L336.5 255.8L337.5 256.0L338.5 256.2L339.5 256.3L340.5 256.5L341.5 256.7L342.5 256.9L343.5 257.0L344.5 257.2L345.5 257.3L346.5 257.5L347.5 257.6L348.5 257.7L349.5 257.9L350.5 258.0L351.5 258.1L352.5 258.2L353.5 258.3L354.5 258.4L355.5 258.5L356.5 258.6L357.5 258.7L358.5 258.8L359.5 258.9L360.5 259.0L361.5 259.1L362.5 259.2L363.5 259.2L364.5 259.3L365.5 259.4L366.5 259.4L367.5 259.5L368.5 259.6L369.5 259.6L370.5 259.7L371.5 259.8L372.5 259.8L373.5 259.9L374.5 259.9L375.5 260.0L376.5 260.0L377.5 260.1L378.5 260.1L379.5 260.1L380.5 260.2L381.5 260.2L382.5 260.3L383.5 260.3L384.5 260.3L385.5 260.4L386.5 260.4L387.5 260.4L388.5 260.5L389.5 260.5L390.5 260.5L391.5 260.6L392.5 260.6L393.5 260.6L394.5 260.6L395.5 260.7L396.5 260.7L397.5 260.7L398.5 260.7L399.5 260.8L400.5 260.8L401.5 260.8L402.5 260.8L403.5 260.8L404.5 260.9L405.5 260.9L406.5 260.9L407.5 260.9L408.5 260.9L409.5 261.0L410.5 261.0L411.5 261.0L412.5 261.0L413.5 261.0L414.5 261.0L415.5 261.1L416.5 261.1L417.5 261.1L418.5 261.1L419.5 261.1L420.5 261.1L421.5 261.2L422.5 261.2L423.5 261.2L424.5 261.2L425.5 261.2L426.5 261.2L427.5 261.2L428.5 261.2L429.5 261.3L430.5 261.3L431.5 261.3L432.5 261.3L433.5 261.3L434.5 261.3L435.5 261.3L436.5 261.3L437.5 261.4L438.5 261.4L439.5 261.4L440.5 261.4L441.5 261.4L442.5 261.4L443.5 261.4L444.5 261.4L445.5 261.5L446.5 261.5L447.5 261.5L448.5 261.5L449.5 261.5" fill="none" stroke="#000" stroke-width="1.70" stroke-linejoin="round"/>
<path d="M65.5 34.2L66.5 34.2L67.5 34.2L68.5 34.3L69.5 34.3L70.5 34.3L71.5 34.3L72.5 34.4L73.5 34.4L74.5 34.4L75.5 34.4L76.5 34.4L77.5 34.4L78.5 34.4L79.5 34.4L80.5 34.4L81.5 34.5L82.5 34.5L83.5 34.5L84.5 34.5L85.5 34.5L86.5 34.5L87.5 34.5L88.5 34.5L89.5 34.5L90.5 34.5L91.5 34.5L92.5 34.5L93.5 34.5L94.5 34.5L95.5 34.5L96.5 34.5L97.5 34.5L98.5 34.5L99.5 34.5L100.5 34.5L101.5 34.6L102.5 34.6L103.5 34.6L104.5 34.6L105.5 34.6L106.5 34.6L107.5 34.6L108.5 34.6L109.5 34.6L110.5 34.7L111.5 34.7L112.5 34.7L113.5 34.7L114.5 34.7L115.5 34.8L116.5 34.8L117.5 34.8L118.5 34.9L119.5 34.9L120.5 34.9L121.5 35.0L122.5 35.0L123.5 35.1L124.5 35.1L125.5 35.2L126.5 35.2L127.5 35.3L128.5 35.3L129.5 35.4L130.5 35.5L131.5 35.6L132.5 35.6L133.5 35.7L134.5 35.8L135.5 35.9L136.5 36.0L137.5 36.1L138.5 36.2L139.5 36.3L140.5 36.4L141.5 36.5L142.5 36.7L143.5 36.8L144.5 36.9L145.5 37.1L146.5 37.2L147.5 37.4L148.5 37.5L149.5 37.7L150.5 37.9L151.5 38.1L152.5 38.3L153.5 38.5L154.5 38.7L155.5 38.9L156.5 39.1L157.5 39.3L158.5 39.6L159.5 39.8L160.5 40.1L161.5 40.3L162.5 40.6L163.5 40.9L164.5 41.2L165.5 41.5L166.5 41.8L167.5 42.2L168.5 42.5L169.5 42.8L170.5 43.2L171.5 43.6L172.5 44.0L173.5 44.4L174.5 44.8L175.5 45.2L176.5 45.6L177.5 46.1L178.5 46.6L179.5 47.0L180.5 47.5L181.5 48.1L182.5 48.6L183.5 49.1L184.5 49.7L185.5 50.3L186.5 50.9L187.5 51.5L188.5 52.1L189.5 52.7L190.5 53.4L191.5 54.1L192.5 54.8L193.5 55.5L194.5 56.2L195.5 57.0L196.5 57.8L197.5 58.6L198.5 59.4L199.5 60.3L200.5 61.1L201.5 62.0L202.5 62.9L203.5 63.8L204.5 64.8L205.5 65.7L206.5 66.7L207.5 67.7L208.5 68.7L209.5 69.8L210.5 70.8L211.5 71.9L212.5 73.0L213.5 74.2L214.5 75.3L215.5 76.5L216.5 77.6L217.5 78.8L218.5 80.0L219.5 81.3L220.5 82.5L221.5 83.8L222.5 85.1L223.5 86.4L224.5 87.7L225.5 89.1L226.5 90.4L227.5 91.8L228.5 93.2L229.5 94.6L230.5 96.0L231.5 97.4L232.5 98.9L233.5 100.4L234.5 101.8L235.5 103.3L236.5 104.8L237.5 106.3L238.5 107.9L239.5 109.4L240.5 110.9L241.5 112.5L242.5 114.1L243.5 115.7L244.5 117.3L245.5 118.9L246.5 120.6L247.5 122.3L248.5 124.0L249.5 125.7L250.5 127.5L251.5 129.3L252.5 131.1L253.5 133.0L254.5 134.9L255.5 136.8L256.5 138.7L257.5 140.6L258.5 142.6L259.5 144.5L260.5 146.5L261.5 148.5L262.5 150.4L263.5 152.4L264.5 154.4L265.5 156.4L266.5 158.4L267.5 160.4L268.5 162.3L269.5 164.3L270.5 166.3L271.5 168.2L272.5 170.2L273.5 172.1L274.5 174.0L275.5 176.0L276.5 177.9L277.5 179.8L278.5 181.6L279.5 183.5L280.5 185.3L281.5 187.2L282.5 189.0L283.5 190.8L284.5 192.5L285.5 194.3L286.5 196.0L287.5 197.7L288.5 199.4L289.5 201.0L290.5 202.6L291.5 204.2L292.5 205.8L293.5 207.4L294.5 208.9L295.5 210.4L296.5 211.8L297.5 213.3L298.5 214.7L299.5 216.1L300.5 217.4L301.5 218.7L302.5 220.0L303.5 221.3L304.5 222.6L305.5 223.8L306.5 224.9L307.5 226.1L308.5 227.2L309.5 228.3L310.5 229.4L311.5 230.4L312.5 231.5L313.5 232.5L314.5 233.4L315.5 234.4L316.5 235.3L317.5 236.2L318.5 237.0L319.5 237.8L320.5 238.7L321.5 239.4L322.5 240.2L323.5 240.9L324.5 241.7L325.5 242.4L326.5 243.0L327.5 243.7L328.5 244.3L329.5 244.9L330.5 245.5L331.5 246.1L332.5 246.6L333.5 247.2L334.5 247.7L335.5 248.2L336.5 248.7L337.5 249.1L338.5 249.6L339.5 250.0L340.5 250.4L341.5 250.8L342.5 251.2L343.5 251.6L344.5 252.0L345.5 252.3L346.5 252.7L347.5 253.0L348.5 253.3L349.5 253.6L350.5 253.9L351.5 254.2L352.5 254.4L353.5 254.7L354.5 254.9L355.5 255.2L356.5 255.4L357.5 255.6L358.5 255.8L359.5 256.0L360.5 256.2L361.5 256.4L362.5 256.6L363.5 256.7L364.5 256.9L365.5 257.1L366.5 257.2L367.5 257.4L368.5 257.5L369.5 257.6L370.5 257.8L371.5 257.9L372.5 258.0L373.5 258.1L374.5 258.2L375.5 258.3L376.5 258.4L377.5 258.5L378.5 258.6L379.5 258.7L380.5 258.7L381.5 258.8L382.5 258.9L383.5 259.0L384.5 259.0L385.5 259.1L386.5 259.1L387.5 259.2L388.5 259.3L389.5 259.3L390.5 259.4L391.5 259.4L392.5 259.5L393.5 259.5L394.5 259.5L395.5 259.6L396.5 259.6L397.5 259.7L398.5 259.7L399.5 259.7L400.5 259.8L401.5 259.8L402.5 259.8L403.5 259.8L404.5 259.9L405.5 259.9L406.5 259.9L407.5 260.0L408.5 260.0L409.5 260.0L410.5 260.0L411.5 260.1L412.5 260.1L413.5 260.1L414.5 260.1L415.5 260.1L416.5 260.2L417.5 260.2L418.5 260.2L419.5 260.2L420.5 260.3L421.5 260.3L422.5 260.3L423.5 260.3L424.5 260.4L425.5 260.4L426.5 260.4L427.5 260.4L428.5 260.5L429.5 260.5L430.5 260.5L431.5 260.6L432.5 260.6L433.5 260.6L434.5 260.7L435.5 260.7L436.5 260.7L437.5 260.8L438.5 260.8L439.5 260.8L440.5 260.9L441.5 260.9L442.5 261.0L443.5 261.0L444.5 261.1L445.5 261.1L446.5 261.1L447.5 261.2L448.5 261.2L449.5 261.3" fill="none" stroke="#000" stroke-width="1.70" stroke-linejoin="round" stroke-dasharray="3.7 1.5" stroke-dashoffset="0.0"/>
<path d="M65.5 46.7L66.5 46.7L67.5 46.8L68.5 46.8L69.5 46.9L70.5 46.9L71.5 46.9L72.5 47.0L73.5 47.0L74.5 47.1L75.5 47.2L76.5 47.2L77.5 47.3L78.5 47.3L79.5 47.4L80.5 47.5L81.5 47.5L82.5 47.6L83.5 47.7L84.5 47.8L85.5 47.9L86.5 47.9L87.5 48.0L88.5 48.1L89.5 48.2L90.5 48.3L91.5 48.4L92.5 48.5L93.5 48.6L94.5 48.8L95.5 48.9L96.5 49.0L97.5 49.1L98.5 49.2L99.5 49.4L100.5 49.5L101.5 49.6L102.5 49.8L103.5 49.9L104.5 50.1L105.5 50.2L106.5 50.4L107.5 50.5L108.5 50.7L109.5 50.9L110.5 51.0L111.5 51.2L112.5 51.4L113.5 51.6L114.5 51.8L115.5 52.0L116.5 52.2L117.5 52.4L118.5 52.6L119.5 52.8L120.5 53.0L121.5 53.2L122.5 53.5L123.5 53.7L124.5 53.9L125.5 54.2L126.5 54.4L127.5 54.7L128.5 55.0L129.5 55.2L130.5 55.5L131.5 55.8L132.5 56.1L133.5 56.4L134.5 56.7L135.5 57.0L136.5 57.3L137.5 57.6L138.5 58.0L139.5 58.3L140.5 58.7L141.5 59.0L142.5 59.4L143.5 59.8L144.5 60.1L145.5 60.5L146.5 60.9L147.5 61.3L148.5 61.7L149.5 62.1L150.5 62.6L151.5 63.0L152.5 63.5L153.5 63.9L154.5 64.4L155.5 64.9L156.5 65.4L157.5 65.9L158.5 66.4L159.5 66.9L160.5 67.4L161.5 68.0L162.5 68.5L163.5 69.1L164.5 69.7L165.5 70.2L166.5 70.8L167.5 71.5L168.5 72.1L169.5 72.7L170.5 73.4L171.5 74.0L172.5 74.7L173.5 75.4L174.5 76.1L175.5 76.8L176.5 77.6L177.5 78.3L178.5 79.1L179.5 79.9L180.5 80.7L181.5 81.5L182.5 82.3L183.5 83.1L184.5 84.0L185.5 84.9L186.5 85.8L187.5 86.7L188.5 87.6L189.5 88.5L190.5 89.5L191.5 90.5L192.5 91.5L193.5 92.5L194.5 93.5L195.5 94.5L196.5 95.6L197.5 96.7L198.5 97.8L199.5 98.9L200.5 100.1L201.5 101.2L202.5 102.4L203.5 103.6L204.5 104.8L205.5 106.1L206.5 107.3L207.5 108.6L208.5 109.9L209.5 111.2L210.5 112.5L211.5 113.9L212.5 115.2L213.5 116.6L214.5 118.0L215.5 119.5L216.5 120.9L217.5 122.4L218.5 123.9L219.5 125.3L220.5 126.9L221.5 128.4L222.5 129.9L223.5 131.5L224.5 133.1L225.5 134.7L226.5 136.3L227.5 137.9L228.5 139.5L229.5 141.2L230.5 142.8L231.5 144.5L232.5 146.2L233.5 147.9L234.5 149.6L235.5 151.3L236.5 153.0L237.5 154.7L238.5 156.5L239.5 158.2L240.5 160.0L241.5 161.7L242.5 163.4L243.5 165.2L244.5 166.9L245.5 168.7L246.5 170.4L247.5 172.2L248.5 173.9L249.5 175.6L250.5 177.4L251.5 179.1L252.5 180.8L253.5 182.5L254.5 184.2L255.5 185.9L256.5 187.6L257.5 189.2L258.5 190.9L259.5 192.5L260.5 194.1L261.5 195.7L262.5 197.3L263.5 198.9L264.5 200.4L265.5 201.9L266.5 203.4L267.5 204.9L268.5 206.4L269.5 207.8L270.5 209.3L271.5 210.6L272.5 212.0L273.5 213.4L274.5 214.7L275.5 216.0L276.5 217.3L277.5 218.5L278.5 219.8L279.5 221.0L280.5 222.2L281.5 223.3L282.5 224.4L283.5 225.6L284.5 226.6L285.5 227.7L286.5 228.7L287.5 229.7L288.5 230.7L289.5 231.7L290.5 232.6L291.5 233.5L292.5 234.4L293.5 235.2L294.5 236.1L295.5 236.9L296.5 237.7L297.5 238.4L298.5 239.2L299.5 239.9L300.5 240.6L301.5 241.3L302.5 242.0L303.5 242.6L304.5 243.2L305.5 243.8L306.5 244.4L307.5 245.0L308.5 245.5L309.5 246.1L310.5 246.6L311.5 247.1L312.5 247.6L313.5 248.0L314.5 248.5L315.5 248.9L316.5 249.3L317.5 249.7L318.5 250.1L319.5 250.5L320.5 250.9L321.5 251.2L322.5 251.6L323.5 251.9L324.5 252.2L325.5 252.5L326.5 252.8L327.5 253.1L328.5 253.4L329.5 253.7L330.5 253.9L331.5 254.2L332.5 254.4L333.5 254.6L334.5 254.8L335.5 255.1L336.5 255.3L337.5 255.5L338.5 255.7L339.5 255.8L340.5 256.0L341.5 256.2L342.5 256.4L343.5 256.5L344.5 256.7L345.5 256.8L346.5 257.0L347.5 257.1L348.5 257.2L349.5 257.4L350.5 257.5L351.5 257.6L352.5 257.7L353.5 257.8L354.5 257.9L355.5 258.0L356.5 258.1L357.5 258.2L358.5 258.3L359.5 258.4L360.5 258.5L361.5 258.6L362.5 258.7L363.5 258.7L364.5 258.8L365.5 258.9L366.5 258.9L367.5 259.0L368.5 259.1L369.5 259.1L370.5 259.2L371.5 259.3L372.5 259.3L373.5 259.4L374.5 259.4L375.5 259.5L376.5 259.5L377.5 259.6L378.5 259.6L379.5 259.6L380.5 259.7L381.5 259.7L382.5 259.8L383.5 259.8L384.5 259.8L385.5 259.9L386.5 259.9L387.5 259.9L388.5 260.0L389.5 260.0L390.5 260.0L391.5 260.1L392.5 260.1L393.5 260.1L394.5 260.1L395.5 260.2L396.5 260.2L397.5 260.2L398.5 260.2L399.5 260.3L400.5 260.3L401.5 260.3L402.5 260.3L403.5 260.3L404.5 260.4L405.5 260.4L406.5 260.4L407.5 260.4L408.5 260.4L409.5 260.5L410.5 260.5L411.5 260.5L412.5 260.5L413.5 260.5L414.5 260.5L415.5 260.6L416.5 260.6L417.5 260.6L418.5 260.6L419.5 260.6L420.5 260.6L421.5 260.7L422.5 260.7L423.5 260.7L424.5 260.7L425.5 260.7L426.5 260.7L427.5 260.7L428.5 260.7L429.5 260.8L430.5 260.8L431.5 260.8L432.5 260.8L433.5 260.8L434.5 260.8L435.5 260.8L436.5 260.8L437.5 260.9L438.5 260.9L439.5 260.9L440.5 260.9L441.5 260.9L442.5 260.9L443.5 260.9L444.5 260.9L445.5 261.0L446.5 261.0L447.5 261.0L448.5 261.0L449.5 261.0" fill="none" stroke="#f00" stroke-width="1.70" stroke-linejoin="round"/>
<path d="M65.5 33.9L66.5 33.9L67.5 33.9L68.5 34.0L69.5 34.0L70.5 34.0L71.5 34.0L72.5 34.1L73.5 34.1L74.5 34.1L75.5 34.1L76.5 34.1L77.5 34.1L78.5 34.1L79.5 34.1L80.5 34.1L81.5 34.2L82.5 34.2L83.5 34.2L84.5 34.2L85.5 34.2L86.5 34.2L87.5 34.2L88.5 34.2L89.5 34.2L90.5 34.2L91.5 34.2L92.5 34.2L93.5 34.2L94.5 34.2L95.5 34.2L96.5 34.2L97.5 34.2L98.5 34.2L99.5 34.2L100.5 34.2L101.5 34.3L102.5 34.3L103.5 34.3L104.5 34.3L105.5 34.3L106.5 34.3L107.5 34.3L108.5 34.3L109.5 34.3L110.5 34.4L111.5 34.4L112.5 34.4L113.5 34.4L114.5 34.4L115.5 34.5L116.5 34.5L117.5 34.5L118.5 34.6L119.5 34.6L120.5 34.6L121.5 34.7L122.5 34.7L123.5 34.8L124.5 34.8L125.5 34.9L126.5 34.9L127.5 35.0L128.5 35.0L129.5 35.1L130.5 35.2L131.5 35.3L132.5 35.3L133.5 35.4L134.5 35.5L135.5 35.6L136.5 35.7L137.5 35.8L138.5 35.9L139.5 36.0L140.5 36.1L141.5 36.2L142.5 36.4L143.5 36.5L144.5 36.6L145.5 36.8L146.5 36.9L147.5 37.1L148.5 37.2L149.5 37.4L150.5 37.6L151.5 37.8L152.5 38.0L153.5 38.2L154.5 38.4L155.5 38.6L156.5 38.8L157.5 39.0L158.5 39.3L159.5 39.5L160.5 39.8L161.5 40.0L162.5 40.3L163.5 40.6L164.5 40.9L165.5 41.2L166.5 41.5L167.5 41.9L168.5 42.2L169.5 42.5L170.5 42.9L171.5 43.3L172.5 43.7L173.5 44.1L174.5 44.5L175.5 44.9L176.5 45.3L177.5 45.8L178.5 46.3L179.5 46.7L180.5 47.2L181.5 47.8L182.5 48.3L183.5 48.8L184.5 49.4L185.5 50.0L186.5 50.6L187.5 51.2L188.5 51.8L189.5 52.4L190.5 53.1L191.5 53.8L192.5 54.5L193.5 55.2L194.5 55.9L195.5 56.7L196.5 57.5L197.5 58.3L198.5 59.1L199.5 60.0L200.5 60.8L201.5 61.7L202.5 62.6L203.5 63.5L204.5 64.5L205.5 65.4L206.5 66.4L207.5 67.4L208.5 68.4L209.5 69.5L210.5 70.5L211.5 71.6L212.5 72.7L213.5 73.9L214.5 75.0L215.5 76.2L216.5 77.3L217.5 78.5L218.5 79.7L219.5 81.0L220.5 82.2L221.5 83.5L222.5 84.8L223.5 86.1L224.5 87.4L225.5 88.8L226.5 90.1L227.5 91.5L228.5 92.9L229.5 94.3L230.5 95.7L231.5 97.1L232.5 98.6L233.5 100.1L234.5 101.5L235.5 103.0L236.5 104.5L237.5 106.0L238.5 107.6L239.5 109.1L240.5 110.6L241.5 112.2L242.5 113.8L243.5 115.4L244.5 117.0L245.5 118.6L246.5 120.3L247.5 122.0L248.5 123.7L249.5 125.4L250.5 127.2L251.5 129.0L252.5 130.8L253.5 132.7L254.5 134.6L255.5 136.5L256.5 138.4L257.5 140.3L258.5 142.3L259.5 144.2L260.5 146.2L261.5 148.2L262.5 150.1L263.5 152.1L264.5 154.1L265.5 156.1L266.5 158.1L267.5 160.1L268.5 162.0L269.5 164.0L270.5 166.0L271.5 167.9L272.5 169.9L273.5 171.8L274.5 173.7L275.5 175.7L276.5 177.6L277.5 179.5L278.5 181.3L279.5 183.2L280.5 185.0L281.5 186.9L282.5 188.7L283.5 190.5L284.5 192.2L285.5 194.0L286.5 195.7L287.5 197.4L288.5 199.1L289.5 200.7L290.5 202.3L291.5 203.9L292.5 205.5L293.5 207.1L294.5 208.6L295.5 210.1L296.5 211.5L297.5 213.0L298.5 214.4L299.5 215.8L300.5 217.1L301.5 218.4L302.5 219.7L303.5 221.0L304.5 222.3L305.5 223.5L306.5 224.6L307.5 225.8L308.5 226.9L309.5 228.0L310.5 229.1L311.5 230.1L312.5 231.2L313.5 232.2L314.5 233.1L315.5 234.1L316.5 235.0L317.5 235.9L318.5 236.7L319.5 237.5L320.5 238.4L321.5 239.1L322.5 239.9L323.5 240.6L324.5 241.4L325.5 242.1L326.5 242.7L327.5 243.4L328.5 244.0L329.5 244.6L330.5 245.2L331.5 245.8L332.5 246.3L333.5 246.9L334.5 247.4L335.5 247.9L336.5 248.4L337.5 248.8L338.5 249.3L339.5 249.7L340.5 250.1L341.5 250.5L342.5 250.9L343.5 251.3L344.5 251.7L345.5 252.0L346.5 252.4L347.5 252.7L348.5 253.0L349.5 253.3L350.5 253.6L351.5 253.9L352.5 254.1L353.5 254.4L354.5 254.6L355.5 254.9L356.5 255.1L357.5 255.3L358.5 255.5L359.5 255.7L360.5 255.9L361.5 256.1L362.5 256.3L363.5 256.4L364.5 256.6L365.5 256.8L366.5 256.9L367.5 257.1L368.5 257.2L369.5 257.3L370.5 257.5L371.5 257.6L372.5 257.7L373.5 257.8L374.5 257.9L375.5 258.0L376.5 258.1L377.5 258.2L378.5 258.3L379.5 258.4L380.5 258.4L381.5 258.5L382.5 258.6L383.5 258.7L384.5 258.7L385.5 258.8L386.5 258.8L387.5 258.9L388.5 259.0L389.5 259.0L390.5 259.1L391.5 259.1L392.5 259.2L393.5 259.2L394.5 259.2L395.5 259.3L396.5 259.3L397.5 259.4L398.5 259.4L399.5 259.4L400.5 259.5L401.5 259.5L402.5 259.5L403.5 259.5L404.5 259.6L405.5 259.6L406.5 259.6L407.5 259.7L408.5 259.7L409.5 259.7L410.5 259.7L411.5 259.8L412.5 259.8L413.5 259.8L414.5 259.8L415.5 259.8L416.5 259.9L417.5 259.9L418.5 259.9L419.5 259.9L420.5 260.0L421.5 260.0L422.5 260.0L423.5 260.0L424.5 260.1L425.5 260.1L426.5 260.1L427.5 260.1L428.5 260.2L429.5 260.2L430.5 260.2L431.5 260.3L432.5 260.3L433.5 260.3L434.5 260.4L435.5 260.4L436.5 260.4L437.5 260.5L438.5 260.5L439.5 260.5L440.5 260.6L441.5 260.6L442.5 260.7L443.5 260.7L444.5 260.8L445.5 260.8L446.5 260.8L447.5 260.9L448.5 260.9L449.5 261.0" fill="none" stroke="#f00" stroke-width="1.70" stroke-linejoin="round" stroke-dasharray="3.7 1.5" stroke-dashoffset="2.6"/>
<path d="M65.5 46.7L66.5 46.7L67.5 46.7L68.5 46.8L69.5 46.8L70.5 46.8L71.5 46.9L72.5 46.9L73.5 46.9L74.5 47.0L75.5 47.0L76.5 47.1L77.5 47.1L78.5 47.2L79.5 47.2L80.5 47.3L81.5 47.4L82.5 47.4L83.5 47.5L84.5 47.6L85.5 47.6L86.5 47.7L87.5 47.8L88.5 47.9L89.5 48.0L90.5 48.1L91.5 48.2L92.5 48.2L93.5 48.3L94.5 48.5L95.5 48.6L96.5 48.7L97.5 48.8L98.5 48.9L99.5 49.0L100.5 49.2L101.5 49.3L102.5 49.4L103.5 49.6L104.5 49.7L105.5 49.9L106.5 50.0L107.5 50.2L108.5 50.3L109.5 50.5L110.5 50.6L111.5 50.8L112.5 51.0L113.5 51.2L114.5 51.4L115.5 51.6L116.5 51.8L117.5 52.0L118.5 52.2L119.5 52.4L120.5 52.6L121.5 52.8L122.5 53.0L123.5 53.3L124.5 53.5L125.5 53.8L126.5 54.0L127.5 54.3L128.5 54.5L129.5 54.8L130.5 55.1L131.5 55.3L132.5 55.6L133.5 55.9L134.5 56.2L135.5 56.5L136.5 56.9L137.5 57.2L138.5 57.5L139.5 57.8L140.5 58.2L141.5 58.5L142.5 58.9L143.5 59.3L144.5 59.6L145.5 60.0L146.5 60.4L147.5 60.8L148.5 61.2L149.5 61.7L150.5 62.1L151.5 62.5L152.5 63.0L153.5 63.4L154.5 63.9L155.5 64.4L156.5 64.9L157.5 65.4L158.5 65.9L159.5 66.4L160.5 66.9L161.5 67.5L162.5 68.0L163.5 68.6L164.5 69.1L165.5 69.7L166.5 70.3L167.5 70.9L168.5 71.6L169.5 72.2L170.5 72.8L171.5 73.5L172.5 74.2L173.5 74.9L174.5 75.6L175.5 76.3L176.5 77.0L177.5 77.8L178.5 78.5L179.5 79.3L180.5 80.1L181.5 80.9L182.5 81.7L183.5 82.5L184.5 83.4L185.5 84.3L186.5 85.1L187.5 86.0L188.5 86.9L189.5 87.9L190.5 88.8L191.5 89.8L192.5 90.8L193.5 91.8L194.5 92.8L195.5 93.8L196.5 94.9L197.5 96.0L198.5 97.1L199.5 98.2L200.5 99.4L201.5 100.5L202.5 101.7L203.5 102.9L204.5 104.1L205.5 105.4L206.5 106.6L207.5 107.9L208.5 109.2L209.5 110.5L210.5 111.8L211.5 113.1L212.5 114.4L213.5 115.7L214.5 117.0L215.5 118.3L216.5 119.6L217.5 121.0L218.5 122.3L219.5 123.7L220.5 125.0L221.5 126.4L222.5 127.8L223.5 129.2L224.5 130.7L225.5 132.1L226.5 133.6L227.5 135.1L228.5 136.7L229.5 138.2L230.5 139.8L231.5 141.4L232.5 142.9L233.5 144.5L234.5 146.2L235.5 147.8L236.5 149.4L237.5 151.0L238.5 152.7L239.5 154.3L240.5 155.9L241.5 157.5L242.5 159.2L243.5 160.8L244.5 162.4L245.5 164.0L246.5 165.6L247.5 167.2L248.5 168.8L249.5 170.4L250.5 172.0L251.5 173.6L252.5 175.2L253.5 176.8L254.5 178.4L255.5 180.0L256.5 181.6L257.5 183.2L258.5 184.8L259.5 186.4L260.5 188.0L261.5 189.6L262.5 191.1L263.5 192.6L264.5 194.1L265.5 195.6L266.5 197.0L267.5 198.5L268.5 199.8L269.5 201.2L270.5 202.5L271.5 203.8L272.5 205.1L273.5 206.3L274.5 207.5L275.5 208.7L276.5 209.8L277.5 211.0L278.5 212.1L279.5 213.2L280.5 214.2L281.5 215.2L282.5 216.2L283.5 217.2L284.5 218.2L285.5 219.1L286.5 220.1L287.5 221.0L288.5 221.8L289.5 222.7L290.5 223.5L291.5 224.3L292.5 225.1L293.5 225.9L294.5 226.7L295.5 227.4L296.5 228.1L297.5 228.8L298.5 229.5L299.5 230.1L300.5 230.8L301.5 231.4L302.5 232.0L303.5 232.6L304.5 233.1L305.5 233.7L306.5 234.2L307.5 234.7L308.5 235.3L309.5 235.7L310.5 236.2L311.5 236.7L312.5 237.1L313.5 237.6L314.5 238.0L315.5 238.4L316.5 238.8L317.5 239.2L318.5 239.5L319.5 239.9L320.5 240.2L321.5 240.6L322.5 240.9L323.5 241.2L324.5 241.5L325.5 241.8L326.5 242.1L327.5 242.4L328.5 242.7L329.5 242.9L330.5 243.2L331.5 243.4L332.5 243.7L333.5 243.9L334.5 244.1L335.5 244.3L336.5 244.6L337.5 244.8L338.5 245.0L339.5 245.2L340.5 245.4L341.5 245.5L342.5 245.7L343.5 245.9L344.5 246.1L345.5 246.2L346.5 246.4L347.5 246.6L348.5 246.7L349.5 246.9L350.5 247.0L351.5 247.1L352.5 247.3L353.5 247.4L354.5 247.5L355.5 247.7L356.5 247.8L357.5 247.9L358.5 248.0L359.5 248.1L360.5 248.3L361.5 248.4L362.5 248.5L363.5 248.6L364.5 248.7L365.5 248.8L366.5 248.9L367.5 249.0L368.5 249.1L369.5 249.1L370.5 249.2L371.5 249.3L372.5 249.4L373.5 249.5L374.5 249.6L375.5 249.6L376.5 249.7L377.5 249.8L378.5 249.9L379.5 249.9L380.5 250.0L381.5 250.1L382.5 250.1L383.5 250.2L384.5 250.3L385.5 250.3L386.5 250.4L387.5 250.5L388.5 250.5L389.5 250.6L390.5 250.6L391.5 250.7L392.5 250.8L393.5 250.8L394.5 250.9L395.5 250.9L396.5 251.0L397.5 251.0L398.5 251.1L399.5 251.1L400.5 251.1L401.5 251.2L402.5 251.2L403.5 251.3L404.5 251.3L405.5 251.4L406.5 251.4L407.5 251.4L408.5 251.5L409.5 251.5L410.5 251.5L411.5 251.6L412.5 251.6L413.5 251.6L414.5 251.7L415.5 251.7L416.5 251.7L417.5 251.8L418.5 251.8L419.5 251.8L420.5 251.8L421.5 251.9L422.5 251.9L423.5 251.9L424.5 251.9L425.5 251.9L426.5 251.9L427.5 252.0L428.5 252.0L429.5 252.0L430.5 252.0L431.5 252.0L432.5 252.0L433.5 252.0L434.5 252.0L435.5 252.1L436.5 252.1L437.5 252.1L438.5 252.1L439.5 252.1L440.5 252.1L441.5 252.1L442.5 252.1L443.5 252.1L444.5 252.0L445.5 252.0L446.5 252.0L447.5 252.0L448.5 252.0L449.5 252.0" fill="none" stroke="#ff8000" stroke-width="1.70" stroke-linejoin="round"/>
<path d="M65.5 33.9L66.5 33.9L67.5 33.9L68.5 33.9L69.5 34.0L70.5 34.0L71.5 34.0L72.5 34.0L73.5 34.0L74.5 34.0L75.5 34.0L76.5 34.0L77.5 34.0L78.5 34.0L79.5 34.1L80.5 34.1L81.5 34.1L82.5 34.1L83.5 34.1L84.5 34.1L85.5 34.1L86.5 34.1L87.5 34.1L88.5 34.1L89.5 34.1L90.5 34.1L91.5 34.1L92.5 34.2L93.5 34.2L94.5 34.2L95.5 34.2L96.5 34.2L97.5 34.2L98.5 34.2L99.5 34.2L100.5 34.3L101.5 34.3L102.5 34.3L103.5 34.3L104.5 34.3L105.5 34.4L106.5 34.4L107.5 34.4L108.5 34.4L109.5 34.4L110.5 34.5L111.5 34.5L112.5 34.5L113.5 34.6L114.5 34.6L115.5 34.7L116.5 34.7L117.5 34.7L118.5 34.8L119.5 34.8L120.5 34.9L121.5 34.9L122.5 35.0L123.5 35.0L124.5 35.1L125.5 35.2L126.5 35.2L127.5 35.3L128.5 35.4L129.5 35.5L130.5 35.5L131.5 35.6L132.5 35.7L133.5 35.8L134.5 35.9L135.5 36.0L136.5 36.1L137.5 36.2L138.5 36.3L139.5 36.5L140.5 36.6L141.5 36.7L142.5 36.8L143.5 37.0L144.5 37.1L145.5 37.3L146.5 37.4L147.5 37.6L148.5 37.8L149.5 37.9L150.5 38.1L151.5 38.3L152.5 38.5L153.5 38.7L154.5 38.9L155.5 39.1L156.5 39.4L157.5 39.6L158.5 39.8L159.5 40.1L160.5 40.4L161.5 40.6L162.5 40.9L163.5 41.2L164.5 41.5L165.5 41.8L166.5 42.1L167.5 42.4L168.5 42.8L169.5 43.1L170.5 43.5L171.5 43.8L172.5 44.2L173.5 44.6L174.5 45.0L175.5 45.4L176.5 45.9L177.5 46.3L178.5 46.8L179.5 47.2L180.5 47.7L181.5 48.2L182.5 48.7L183.5 49.3L184.5 49.8L185.5 50.4L186.5 50.9L187.5 51.5L188.5 52.1L189.5 52.8L190.5 53.4L191.5 54.1L192.5 54.8L193.5 55.4L194.5 56.2L195.5 56.9L196.5 57.7L197.5 58.4L198.5 59.2L199.5 60.0L200.5 60.9L201.5 61.7L202.5 62.6L203.5 63.5L204.5 64.4L205.5 65.3L206.5 66.3L207.5 67.2L208.5 68.2L209.5 69.2L210.5 70.2L211.5 71.3L212.5 72.3L213.5 73.4L214.5 74.5L215.5 75.6L216.5 76.7L217.5 77.8L218.5 79.0L219.5 80.2L220.5 81.4L221.5 82.6L222.5 83.8L223.5 85.1L224.5 86.4L225.5 87.6L226.5 89.0L227.5 90.3L228.5 91.6L229.5 93.0L230.5 94.4L231.5 95.8L232.5 97.2L233.5 98.7L234.5 100.1L235.5 101.6L236.5 103.1L237.5 104.7L238.5 106.2L239.5 107.8L240.5 109.3L241.5 110.9L242.5 112.6L243.5 114.2L244.5 115.8L245.5 117.5L246.5 119.2L247.5 120.9L248.5 122.6L249.5 124.3L250.5 126.0L251.5 127.8L252.5 129.5L253.5 131.3L254.5 133.1L255.5 134.9L256.5 136.7L257.5 138.5L258.5 140.3L259.5 142.1L260.5 143.9L261.5 145.8L262.5 147.6L263.5 149.4L264.5 151.3L265.5 153.1L266.5 154.9L267.5 156.8L268.5 158.6L269.5 160.4L270.5 162.3L271.5 164.1L272.5 165.9L273.5 167.7L274.5 169.6L275.5 171.4L276.5 173.1L277.5 174.9L278.5 176.7L279.5 178.4L280.5 180.2L281.5 181.9L282.5 183.6L283.5 185.3L284.5 186.9L285.5 188.5L286.5 190.2L287.5 191.7L288.5 193.3L289.5 194.9L290.5 196.4L291.5 197.9L292.5 199.3L293.5 200.7L294.5 202.1L295.5 203.5L296.5 204.9L297.5 206.2L298.5 207.4L299.5 208.7L300.5 209.9L301.5 211.1L302.5 212.3L303.5 213.4L304.5 214.5L305.5 215.6L306.5 216.6L307.5 217.6L308.5 218.6L309.5 219.6L310.5 220.5L311.5 221.5L312.5 222.4L313.5 223.2L314.5 224.1L315.5 224.9L316.5 225.7L317.5 226.5L318.5 227.3L319.5 228.0L320.5 228.7L321.5 229.5L322.5 230.1L323.5 230.8L324.5 231.5L325.5 232.1L326.5 232.7L327.5 233.3L328.5 233.9L329.5 234.4L330.5 235.0L331.5 235.5L332.5 236.0L333.5 236.5L334.5 237.0L335.5 237.5L336.5 237.9L337.5 238.4L338.5 238.8L339.5 239.2L340.5 239.6L341.5 240.0L342.5 240.4L343.5 240.7L344.5 241.1L345.5 241.4L346.5 241.8L347.5 242.1L348.5 242.4L349.5 242.7L350.5 243.0L351.5 243.3L352.5 243.6L353.5 243.8L354.5 244.1L355.5 244.3L356.5 244.6L357.5 244.8L358.5 245.0L359.5 245.2L360.5 245.5L361.5 245.7L362.5 245.9L363.5 246.1L364.5 246.2L365.5 246.4L366.5 246.6L367.5 246.8L368.5 246.9L369.5 247.1L370.5 247.2L371.5 247.4L372.5 247.5L373.5 247.7L374.5 247.8L375.5 247.9L376.5 248.1L377.5 248.2L378.5 248.3L379.5 248.4L380.5 248.5L381.5 248.6L382.5 248.8L383.5 248.9L384.5 249.0L385.5 249.1L386.5 249.1L387.5 249.2L388.5 249.3L389.5 249.4L390.5 249.5L391.5 249.6L392.5 249.6L393.5 249.7L394.5 249.8L395.5 249.9L396.5 249.9L397.5 250.0L398.5 250.1L399.5 250.1L400.5 250.2L401.5 250.3L402.5 250.3L403.5 250.4L404.5 250.4L405.5 250.5L406.5 250.5L407.5 250.6L408.5 250.6L409.5 250.7L410.5 250.7L411.5 250.8L412.5 250.8L413.5 250.8L414.5 250.9L415.5 250.9L416.5 251.0L417.5 251.0L418.5 251.0L419.5 251.1L420.5 251.1L421.5 251.1L422.5 251.2L423.5 251.2L424.5 251.2L425.5 251.3L426.5 251.3L427.5 251.3L428.5 251.4L429.5 251.4L430.5 251.4L431.5 251.4L432.5 251.5L433.5 251.5L434.5 251.5L435.5 251.5L436.5 251.6L437.5 251.6L438.5 251.6L439.5 251.6L440.5 251.6L441.5 251.7L442.5 251.7L443.5 251.7L444.5 251.7L445.5 251.7L446.5 251.8L447.5 251.8L448.5 251.8L449.5 251.8" fill="none" stroke="#ff8000" stroke-width="1.70" stroke-linejoin="round" stroke-dasharray="3.7 1.5" stroke-dashoffset="1.3"/>
<path d="M65.5 46.7L66.5 46.7L67.5 46.7L68.5 46.7L69.5 46.7L70.5 46.7L71.5 46.7L72.5 46.7L73.5 46.8L74.5 46.8L75.5 46.8L76.5 46.8L77.5 46.9L78.5 46.9L79.5 47.0L80.5 47.0L81.5 47.1L82.5 47.2L83.5 47.2L84.5 47.3L85.5 47.4L86.5 47.5L87.5 47.5L88.5 47.6L89.5 47.7L90.5 47.8L91.5 47.9L92.5 48.0L93.5 48.1L94.5 48.2L95.5 48.4L96.5 48.5L97.5 48.6L98.5 48.7L99.5 48.9L100.5 49.0L101.5 49.1L102.5 49.3L103.5 49.4L104.5 49.6L105.5 49.7L106.5 49.9L107.5 50.1L108.5 50.2L109.5 50.4L110.5 50.6L111.5 50.8L112.5 50.9L113.5 51.1L114.5 51.3L115.5 51.5L116.5 51.7L117.5 51.9L118.5 52.1L119.5 52.3L120.5 52.5L121.5 52.8L122.5 53.0L123.5 53.2L124.5 53.4L125.5 53.7L126.5 53.9L127.5 54.2L128.5 54.4L129.5 54.7L130.5 54.9L131.5 55.2L132.5 55.5L133.5 55.7L134.5 56.0L135.5 56.3L136.5 56.6L137.5 56.9L138.5 57.2L139.5 57.5L140.5 57.8L141.5 58.1L142.5 58.4L143.5 58.7L144.5 59.1L145.5 59.4L146.5 59.7L147.5 60.1L148.5 60.4L149.5 60.8L150.5 61.2L151.5 61.5L152.5 61.9L153.5 62.3L154.5 62.7L155.5 63.1L156.5 63.5L157.5 64.0L158.5 64.4L159.5 64.8L160.5 65.3L161.5 65.8L162.5 66.2L163.5 66.7L164.5 67.2L165.5 67.7L166.5 68.2L167.5 68.8L168.5 69.3L169.5 69.9L170.5 70.4L171.5 71.0L172.5 71.6L173.5 72.2L174.5 72.8L175.5 73.4L176.5 74.1L177.5 74.7L178.5 75.4L179.5 76.1L180.5 76.8L181.5 77.5L182.5 78.2L183.5 78.9L184.5 79.7L185.5 80.5L186.5 81.3L187.5 82.0L188.5 82.9L189.5 83.7L190.5 84.5L191.5 85.4L192.5 86.3L193.5 87.1L194.5 88.0L195.5 89.0L196.5 89.9L197.5 90.8L198.5 91.8L199.5 92.8L200.5 93.8L201.5 94.8L202.5 95.8L203.5 96.8L204.5 97.9L205.5 98.9L206.5 100.0L207.5 101.1L208.5 102.2L209.5 103.3L210.5 104.5L211.5 105.6L212.5 106.7L213.5 107.9L214.5 109.1L215.5 110.3L216.5 111.5L217.5 112.7L218.5 113.9L219.5 115.2L220.5 116.4L221.5 117.6L222.5 118.9L223.5 120.2L224.5 121.5L225.5 122.7L226.5 124.0L227.5 125.3L228.5 126.6L229.5 127.9L230.5 129.3L231.5 130.6L232.5 131.9L233.5 133.2L234.5 134.6L235.5 135.9L236.5 137.2L237.5 138.5L238.5 139.9L239.5 141.2L240.5 142.5L241.5 143.8L242.5 145.2L243.5 146.5L244.5 147.8L245.5 149.1L246.5 150.4L247.5 151.7L248.5 153.0L249.5 154.2L250.5 155.5L251.5 156.8L252.5 158.0L253.5 159.2L254.5 160.5L255.5 161.7L256.5 162.9L257.5 164.1L258.5 165.2L259.5 166.4L260.5 167.6L261.5 168.7L262.5 169.8L263.5 170.9L264.5 172.0L265.5 173.1L266.5 174.2L267.5 175.3L268.5 176.3L269.5 177.3L270.5 178.3L271.5 179.3L272.5 180.3L273.5 181.3L274.5 182.3L275.5 183.2L276.5 184.1L277.5 185.0L278.5 185.9L279.5 186.8L280.5 187.7L281.5 188.5L282.5 189.4L283.5 190.2L284.5 191.0L285.5 191.8L286.5 192.6L287.5 193.4L288.5 194.1L289.5 194.8L290.5 195.6L291.5 196.3L292.5 197.0L293.5 197.7L294.5 198.3L295.5 199.0L296.5 199.6L297.5 200.2L298.5 200.9L299.5 201.5L300.5 202.1L301.5 202.6L302.5 203.2L303.5 203.8L304.5 204.3L305.5 204.8L306.5 205.4L307.5 205.9L308.5 206.4L309.5 206.8L310.5 207.3L311.5 207.8L312.5 208.2L313.5 208.7L314.5 209.1L315.5 209.6L316.5 210.0L317.5 210.4L318.5 210.8L319.5 211.2L320.5 211.6L321.5 211.9L322.5 212.3L323.5 212.7L324.5 213.0L325.5 213.4L326.5 213.7L327.5 214.0L328.5 214.4L329.5 214.7L330.5 215.0L331.5 215.3L332.5 215.6L333.5 215.9L334.5 216.2L335.5 216.5L336.5 216.7L337.5 217.0L338.5 217.3L339.5 217.5L340.5 217.8L341.5 218.0L342.5 218.3L343.5 218.5L344.5 218.8L345.5 219.0L346.5 219.2L347.5 219.4L348.5 219.7L349.5 219.9L350.5 220.1L351.5 220.3L352.5 220.5L353.5 220.7L354.5 220.9L355.5 221.1L356.5 221.3L357.5 221.5L358.5 221.7L359.5 221.8L360.5 222.0L361.5 222.2L362.5 222.3L363.5 222.5L364.5 222.7L365.5 222.8L366.5 223.0L367.5 223.2L368.5 223.3L369.5 223.5L370.5 223.6L371.5 223.7L372.5 223.9L373.5 224.0L374.5 224.2L375.5 224.3L376.5 224.4L377.5 224.6L378.5 224.7L379.5 224.8L380.5 224.9L381.5 225.1L382.5 225.2L383.5 225.3L384.5 225.4L385.5 225.5L386.5 225.7L387.5 225.8L388.5 225.9L389.5 226.0L390.5 226.1L391.5 226.2L392.5 226.3L393.5 226.4L394.5 226.5L395.5 226.6L396.5 226.7L397.5 226.8L398.5 226.9L399.5 227.0L400.5 227.1L401.5 227.1L402.5 227.2L403.5 227.3L404.5 227.4L405.5 227.5L406.5 227.6L407.5 227.6L408.5 227.7L409.5 227.8L410.5 227.9L411.5 227.9L412.5 228.0L413.5 228.1L414.5 228.1L415.5 228.2L416.5 228.3L417.5 228.3L418.5 228.4L419.5 228.5L420.5 228.5L421.5 228.6L422.5 228.6L423.5 228.7L424.5 228.7L425.5 228.8L426.5 228.8L427.5 228.9L428.5 228.9L429.5 229.0L430.5 229.0L431.5 229.1L432.5 229.1L433.5 229.2L434.5 229.2L435.5 229.2L436.5 229.3L437.5 229.3L438.5 229.3L439.5 229.4L440.5 229.4L441.5 229.4L442.5 229.5L443.5 229.5L444.5 229.5L445.5 229.5L446.5 229.6L447.5 229.6L448.5 229.6L449.5 229.6" fill="none" stroke="#0f0" stroke-width="1.70" stroke-linejoin="round"/>
<path d="M65.5 33.9L66.5 33.9L67.5 33.9L68.5 33.9L69.5 33.8L70.5 33.8L71.5 33.8L72.5 33.8L73.5 33.8L74.5 33.8L75.5 33.8L76.5 33.8L77.5 33.8L78.5 33.7L79.5 33.7L80.5 33.7L81.5 33.7L82.5 33.7L83.5 33.7L84.5 33.8L85.5 33.8L86.5 33.8L87.5 33.8L88.5 33.8L89.5 33.8L90.5 33.8L91.5 33.8L92.5 33.8L93.5 33.9L94.5 33.9L95.5 33.9L96.5 33.9L97.5 34.0L98.5 34.0L99.5 34.0L100.5 34.0L101.5 34.1L102.5 34.1L103.5 34.1L104.5 34.2L105.5 34.2L106.5 34.3L107.5 34.3L108.5 34.4L109.5 34.4L110.5 34.4L111.5 34.5L112.5 34.6L113.5 34.6L114.5 34.7L115.5 34.7L116.5 34.8L117.5 34.9L118.5 34.9L119.5 35.0L120.5 35.1L121.5 35.1L122.5 35.2L123.5 35.3L124.5 35.4L125.5 35.5L126.5 35.6L127.5 35.7L128.5 35.8L129.5 35.9L130.5 36.0L131.5 36.1L132.5 36.2L133.5 36.3L134.5 36.4L135.5 36.5L136.5 36.7L137.5 36.8L138.5 36.9L139.5 37.1L140.5 37.2L141.5 37.4L142.5 37.5L143.5 37.7L144.5 37.8L145.5 38.0L146.5 38.2L147.5 38.3L148.5 38.5L149.5 38.7L150.5 38.9L151.5 39.1L152.5 39.3L153.5 39.5L154.5 39.8L155.5 40.0L156.5 40.2L157.5 40.5L158.5 40.7L159.5 41.0L160.5 41.2L161.5 41.5L162.5 41.8L163.5 42.1L164.5 42.4L165.5 42.7L166.5 43.0L167.5 43.3L168.5 43.6L169.5 44.0L170.5 44.3L171.5 44.7L172.5 45.1L173.5 45.4L174.5 45.8L175.5 46.2L176.5 46.7L177.5 47.1L178.5 47.5L179.5 48.0L180.5 48.4L181.5 48.9L182.5 49.4L183.5 49.9L184.5 50.4L185.5 50.9L186.5 51.5L187.5 52.0L188.5 52.6L189.5 53.2L190.5 53.8L191.5 54.4L192.5 55.0L193.5 55.7L194.5 56.4L195.5 57.0L196.5 57.7L197.5 58.4L198.5 59.2L199.5 59.9L200.5 60.6L201.5 61.4L202.5 62.2L203.5 63.0L204.5 63.8L205.5 64.7L206.5 65.5L207.5 66.4L208.5 67.3L209.5 68.2L210.5 69.1L211.5 70.0L212.5 71.0L213.5 71.9L214.5 72.9L215.5 73.9L216.5 74.9L217.5 76.0L218.5 77.0L219.5 78.1L220.5 79.2L221.5 80.3L222.5 81.4L223.5 82.5L224.5 83.6L225.5 84.8L226.5 86.0L227.5 87.2L228.5 88.4L229.5 89.7L230.5 90.9L231.5 92.2L232.5 93.5L233.5 94.8L234.5 96.1L235.5 97.4L236.5 98.8L237.5 100.2L238.5 101.5L239.5 102.9L240.5 104.3L241.5 105.8L242.5 107.2L243.5 108.6L244.5 110.1L245.5 111.5L246.5 113.0L247.5 114.5L248.5 116.0L249.5 117.4L250.5 118.9L251.5 120.4L252.5 121.9L253.5 123.4L254.5 124.9L255.5 126.4L256.5 127.9L257.5 129.4L258.5 130.9L259.5 132.4L260.5 133.9L261.5 135.4L262.5 136.9L263.5 138.4L264.5 139.9L265.5 141.4L266.5 142.9L267.5 144.3L268.5 145.8L269.5 147.2L270.5 148.7L271.5 150.1L272.5 151.5L273.5 152.9L274.5 154.3L275.5 155.7L276.5 157.1L277.5 158.4L278.5 159.8L279.5 161.1L280.5 162.4L281.5 163.7L282.5 165.0L283.5 166.3L284.5 167.6L285.5 168.8L286.5 170.0L287.5 171.2L288.5 172.4L289.5 173.6L290.5 174.7L291.5 175.9L292.5 177.0L293.5 178.1L294.5 179.2L295.5 180.2L296.5 181.3L297.5 182.3L298.5 183.3L299.5 184.3L300.5 185.3L301.5 186.2L302.5 187.1L303.5 188.0L304.5 188.9L305.5 189.8L306.5 190.7L307.5 191.5L308.5 192.3L309.5 193.1L310.5 193.9L311.5 194.7L312.5 195.5L313.5 196.2L314.5 196.9L315.5 197.6L316.5 198.3L317.5 199.0L318.5 199.7L319.5 200.3L320.5 201.0L321.5 201.6L322.5 202.2L323.5 202.8L324.5 203.4L325.5 203.9L326.5 204.5L327.5 205.0L328.5 205.6L329.5 206.1L330.5 206.6L331.5 207.1L332.5 207.6L333.5 208.1L334.5 208.5L335.5 209.0L336.5 209.5L337.5 209.9L338.5 210.3L339.5 210.8L340.5 211.2L341.5 211.6L342.5 212.0L343.5 212.4L344.5 212.7L345.5 213.1L346.5 213.5L347.5 213.8L348.5 214.2L349.5 214.5L350.5 214.8L351.5 215.2L352.5 215.5L353.5 215.8L354.5 216.1L355.5 216.4L356.5 216.7L357.5 217.0L358.5 217.2L359.5 217.5L360.5 217.8L361.5 218.0L362.5 218.3L363.5 218.5L364.5 218.8L365.5 219.0L366.5 219.3L367.5 219.5L368.5 219.7L369.5 219.9L370.5 220.1L371.5 220.3L372.5 220.6L373.5 220.8L374.5 221.0L375.5 221.1L376.5 221.3L377.5 221.5L378.5 221.7L379.5 221.9L380.5 222.1L381.5 222.2L382.5 222.4L383.5 222.6L384.5 222.7L385.5 222.9L386.5 223.0L387.5 223.2L388.5 223.3L389.5 223.5L390.5 223.6L391.5 223.8L392.5 223.9L393.5 224.1L394.5 224.2L395.5 224.3L396.5 224.4L397.5 224.6L398.5 224.7L399.5 224.8L400.5 224.9L401.5 225.1L402.5 225.2L403.5 225.3L404.5 225.4L405.5 225.5L406.5 225.6L407.5 225.7L408.5 225.8L409.5 225.9L410.5 226.0L411.5 226.2L412.5 226.3L413.5 226.3L414.5 226.4L415.5 226.5L416.5 226.6L417.5 226.7L418.5 226.8L419.5 226.9L420.5 227.0L421.5 227.1L422.5 227.2L423.5 227.3L424.5 227.3L425.5 227.4L426.5 227.5L427.5 227.6L428.5 227.7L429.5 227.7L430.5 227.8L431.5 227.9L432.5 228.0L433.5 228.0L434.5 228.1L435.5 228.2L436.5 228.3L437.5 228.3L438.5 228.4L439.5 228.5L440.5 228.5L441.5 228.6L442.5 228.7L443.5 228.7L444.5 228.8L445.5 228.9L446.5 228.9L447.5 229.0L448.5 229.0L449.5 229.1" fill="none" stroke="#0f0" stroke-width="1.70" stroke-linejoin="round" stroke-dasharray="3.7 1.5" stroke-dashoffset="3.9"/>
<path d="M65.5 46.7L66.5 46.7L67.5 46.7L68.5 46.7L69.5 46.8L70.5 46.8L71.5 46.8L72.5 46.8L73.5 46.9L74.5 46.9L75.5 46.9L76.5 47.0L77.5 47.0L78.5 47.1L79.5 47.1L80.5 47.1L81.5 47.2L82.5 47.3L83.5 47.3L84.5 47.4L85.5 47.4L86.5 47.5L87.5 47.6L88.5 47.6L89.5 47.7L90.5 47.8L91.5 47.9L92.5 47.9L93.5 48.0L94.5 48.1L95.5 48.2L96.5 48.3L97.5 48.4L98.5 48.5L99.5 48.6L100.5 48.7L101.5 48.8L102.5 49.0L103.5 49.1L104.5 49.2L105.5 49.3L106.5 49.4L107.5 49.6L108.5 49.7L109.5 49.9L110.5 50.0L111.5 50.1L112.5 50.3L113.5 50.5L114.5 50.6L115.5 50.8L116.5 50.9L117.5 51.1L118.5 51.3L119.5 51.5L120.5 51.7L121.5 51.8L122.5 52.0L123.5 52.2L124.5 52.4L125.5 52.6L126.5 52.9L127.5 53.1L128.5 53.3L129.5 53.5L130.5 53.7L131.5 54.0L132.5 54.2L133.5 54.5L134.5 54.7L135.5 55.0L136.5 55.2L137.5 55.5L138.5 55.8L139.5 56.1L140.5 56.4L141.5 56.6L142.5 56.9L143.5 57.3L144.5 57.6L145.5 57.9L146.5 58.2L147.5 58.5L148.5 58.9L149.5 59.2L150.5 59.6L151.5 59.9L152.5 60.3L153.5 60.7L154.5 61.0L155.5 61.4L156.5 61.8L157.5 62.2L158.5 62.6L159.5 63.1L160.5 63.5L161.5 63.9L162.5 64.4L163.5 64.8L164.5 65.3L165.5 65.7L166.5 66.2L167.5 66.7L168.5 67.2L169.5 67.7L170.5 68.2L171.5 68.7L172.5 69.2L173.5 69.8L174.5 70.3L175.5 70.9L176.5 71.4L177.5 72.0L178.5 72.6L179.5 73.2L180.5 73.8L181.5 74.4L182.5 75.0L183.5 75.6L184.5 76.3L185.5 76.9L186.5 77.6L187.5 78.2L188.5 78.9L189.5 79.6L190.5 80.3L191.5 81.0L192.5 81.7L193.5 82.4L194.5 83.1L195.5 83.9L196.5 84.6L197.5 85.3L198.5 86.1L199.5 86.9L200.5 87.6L201.5 88.4L202.5 89.2L203.5 90.0L204.5 90.8L205.5 91.6L206.5 92.5L207.5 93.3L208.5 94.1L209.5 95.0L210.5 95.8L211.5 96.7L212.5 97.6L213.5 98.5L214.5 99.3L215.5 100.2L216.5 101.1L217.5 102.1L218.5 103.0L219.5 103.9L220.5 104.8L221.5 105.8L222.5 106.7L223.5 107.7L224.5 108.6L225.5 109.6L226.5 110.6L227.5 111.6L228.5 112.6L229.5 113.6L230.5 114.5L231.5 115.5L232.5 116.6L233.5 117.6L234.5 118.6L235.5 119.6L236.5 120.6L237.5 121.6L238.5 122.6L239.5 123.6L240.5 124.7L241.5 125.7L242.5 126.7L243.5 127.7L244.5 128.7L245.5 129.7L246.5 130.7L247.5 131.7L248.5 132.7L249.5 133.7L250.5 134.7L251.5 135.7L252.5 136.6L253.5 137.6L254.5 138.5L255.5 139.5L256.5 140.4L257.5 141.4L258.5 142.3L259.5 143.2L260.5 144.1L261.5 145.0L262.5 145.9L263.5 146.8L264.5 147.7L265.5 148.5L266.5 149.4L267.5 150.3L268.5 151.1L269.5 151.9L270.5 152.7L271.5 153.5L272.5 154.3L273.5 155.1L274.5 155.9L275.5 156.7L276.5 157.5L277.5 158.2L278.5 159.0L279.5 159.7L280.5 160.4L281.5 161.1L282.5 161.8L283.5 162.5L284.5 163.2L285.5 163.9L286.5 164.5L287.5 165.2L288.5 165.8L289.5 166.5L290.5 167.1L291.5 167.7L292.5 168.3L293.5 168.9L294.5 169.5L295.5 170.1L296.5 170.7L297.5 171.2L298.5 171.8L299.5 172.3L300.5 172.8L301.5 173.4L302.5 173.9L303.5 174.4L304.5 174.9L305.5 175.4L306.5 175.8L307.5 176.3L308.5 176.8L309.5 177.2L310.5 177.7L311.5 178.1L312.5 178.6L313.5 179.0L314.5 179.4L315.5 179.8L316.5 180.2L317.5 180.6L318.5 181.0L319.5 181.4L320.5 181.8L321.5 182.1L322.5 182.5L323.5 182.8L324.5 183.2L325.5 183.5L326.5 183.9L327.5 184.2L328.5 184.5L329.5 184.9L330.5 185.2L331.5 185.5L332.5 185.8L333.5 186.1L334.5 186.4L335.5 186.7L336.5 187.0L337.5 187.2L338.5 187.5L339.5 187.8L340.5 188.1L341.5 188.3L342.5 188.6L343.5 188.8L344.5 189.1L345.5 189.3L346.5 189.6L347.5 189.8L348.5 190.0L349.5 190.3L350.5 190.5L351.5 190.7L352.5 190.9L353.5 191.1L354.5 191.3L355.5 191.5L356.5 191.7L357.5 191.9L358.5 192.1L359.5 192.3L360.5 192.5L361.5 192.7L362.5 192.9L363.5 193.1L364.5 193.2L365.5 193.4L366.5 193.6L367.5 193.7L368.5 193.9L369.5 194.1L370.5 194.2L371.5 194.4L372.5 194.5L373.5 194.7L374.5 194.8L375.5 195.0L376.5 195.1L377.5 195.3L378.5 195.4L379.5 195.6L380.5 195.7L381.5 195.8L382.5 196.0L383.5 196.1L384.5 196.2L385.5 196.3L386.5 196.5L387.5 196.6L388.5 196.7L389.5 196.8L390.5 196.9L391.5 197.0L392.5 197.2L393.5 197.3L394.5 197.4L395.5 197.5L396.5 197.6L397.5 197.7L398.5 197.8L399.5 197.9L400.5 198.0L401.5 198.1L402.5 198.2L403.5 198.3L404.5 198.4L405.5 198.5L406.5 198.6L407.5 198.7L408.5 198.7L409.5 198.8L410.5 198.9L411.5 199.0L412.5 199.1L413.5 199.2L414.5 199.2L415.5 199.3L416.5 199.4L417.5 199.5L418.5 199.6L419.5 199.6L420.5 199.7L421.5 199.8L422.5 199.8L423.5 199.9L424.5 200.0L425.5 200.1L426.5 200.1L427.5 200.2L428.5 200.3L429.5 200.3L430.5 200.4L431.5 200.4L432.5 200.5L433.5 200.6L434.5 200.6L435.5 200.7L436.5 200.7L437.5 200.8L438.5 200.9L439.5 200.9L440.5 201.0L441.5 201.0L442.5 201.1L443.5 201.1L444.5 201.2L445.5 201.2L446.5 201.3L447.5 201.3L448.5 201.4L449.5 201.4" fill="none" stroke="#00f" stroke-width="1.70" stroke-linejoin="round"/>
<path d="M65.5 33.9L66.5 33.9L67.5 33.9L68.5 33.9L69.5 33.9L70.5 33.9L71.5 33.9L72.5 34.0L73.5 34.0L74.5 34.0L75.5 34.0L76.5 34.0L77.5 34.0L78.5 34.0L79.5 34.0L80.5 34.0L81.5 34.1L82.5 34.1L83.5 34.1L84.5 34.1L85.5 34.1L86.5 34.1L87.5 34.2L88.5 34.2L89.5 34.2L90.5 34.2L91.5 34.2L92.5 34.3L93.5 34.3L94.5 34.3L95.5 34.4L96.5 34.4L97.5 34.4L98.5 34.4L99.5 34.5L100.5 34.5L101.5 34.5L102.5 34.6L103.5 34.6L104.5 34.7L105.5 34.7L106.5 34.7L107.5 34.8L108.5 34.8L109.5 34.9L110.5 34.9L111.5 35.0L112.5 35.1L113.5 35.1L114.5 35.2L115.5 35.2L116.5 35.3L117.5 35.4L118.5 35.4L119.5 35.5L120.5 35.6L121.5 35.7L122.5 35.8L123.5 35.8L124.5 35.9L125.5 36.0L126.5 36.1L127.5 36.2L128.5 36.3L129.5 36.4L130.5 36.5L131.5 36.6L132.5 36.8L133.5 36.9L134.5 37.0L135.5 37.1L136.5 37.3L137.5 37.4L138.5 37.5L139.5 37.7L140.5 37.8L141.5 38.0L142.5 38.2L143.5 38.3L144.5 38.5L145.5 38.7L146.5 38.9L147.5 39.1L148.5 39.3L149.5 39.5L150.5 39.7L151.5 39.9L152.5 40.1L153.5 40.3L154.5 40.6L155.5 40.8L156.5 41.1L157.5 41.3L158.5 41.6L159.5 41.8L160.5 42.1L161.5 42.4L162.5 42.7L163.5 43.0L164.5 43.3L165.5 43.6L166.5 44.0L167.5 44.3L168.5 44.7L169.5 45.0L170.5 45.4L171.5 45.7L172.5 46.1L173.5 46.5L174.5 46.9L175.5 47.3L176.5 47.7L177.5 48.2L178.5 48.6L179.5 49.0L180.5 49.5L181.5 50.0L182.5 50.4L183.5 50.9L184.5 51.4L185.5 51.9L186.5 52.4L187.5 52.9L188.5 53.5L189.5 54.0L190.5 54.6L191.5 55.1L192.5 55.7L193.5 56.3L194.5 56.9L195.5 57.5L196.5 58.1L197.5 58.7L198.5 59.3L199.5 60.0L200.5 60.6L201.5 61.3L202.5 62.0L203.5 62.6L204.5 63.3L205.5 64.1L206.5 64.8L207.5 65.5L208.5 66.2L209.5 67.0L210.5 67.8L211.5 68.6L212.5 69.3L213.5 70.1L214.5 71.0L215.5 71.8L216.5 72.6L217.5 73.5L218.5 74.4L219.5 75.2L220.5 76.1L221.5 77.0L222.5 77.9L223.5 78.9L224.5 79.8L225.5 80.7L226.5 81.7L227.5 82.7L228.5 83.7L229.5 84.7L230.5 85.7L231.5 86.7L232.5 87.7L233.5 88.7L234.5 89.8L235.5 90.9L236.5 91.9L237.5 93.0L238.5 94.1L239.5 95.2L240.5 96.3L241.5 97.4L242.5 98.5L243.5 99.6L244.5 100.7L245.5 101.8L246.5 103.0L247.5 104.1L248.5 105.2L249.5 106.4L250.5 107.5L251.5 108.7L252.5 109.8L253.5 110.9L254.5 112.1L255.5 113.2L256.5 114.4L257.5 115.5L258.5 116.7L259.5 117.8L260.5 118.9L261.5 120.1L262.5 121.2L263.5 122.3L264.5 123.4L265.5 124.6L266.5 125.7L267.5 126.8L268.5 127.9L269.5 129.0L270.5 130.1L271.5 131.1L272.5 132.2L273.5 133.3L274.5 134.3L275.5 135.4L276.5 136.4L277.5 137.5L278.5 138.5L279.5 139.5L280.5 140.5L281.5 141.5L282.5 142.5L283.5 143.5L284.5 144.5L285.5 145.5L286.5 146.4L287.5 147.4L288.5 148.3L289.5 149.2L290.5 150.1L291.5 151.0L292.5 151.9L293.5 152.8L294.5 153.7L295.5 154.5L296.5 155.4L297.5 156.2L298.5 157.0L299.5 157.8L300.5 158.6L301.5 159.4L302.5 160.2L303.5 161.0L304.5 161.7L305.5 162.5L306.5 163.2L307.5 163.9L308.5 164.6L309.5 165.3L310.5 166.0L311.5 166.7L312.5 167.3L313.5 168.0L314.5 168.6L315.5 169.3L316.5 169.9L317.5 170.5L318.5 171.1L319.5 171.7L320.5 172.2L321.5 172.8L322.5 173.3L323.5 173.9L324.5 174.4L325.5 174.9L326.5 175.4L327.5 175.9L328.5 176.4L329.5 176.9L330.5 177.3L331.5 177.8L332.5 178.2L333.5 178.7L334.5 179.1L335.5 179.5L336.5 179.9L337.5 180.3L338.5 180.7L339.5 181.0L340.5 181.4L341.5 181.8L342.5 182.1L343.5 182.5L344.5 182.8L345.5 183.1L346.5 183.5L347.5 183.8L348.5 184.1L349.5 184.4L350.5 184.7L351.5 185.0L352.5 185.3L353.5 185.5L354.5 185.8L355.5 186.1L356.5 186.3L357.5 186.6L358.5 186.8L359.5 187.1L360.5 187.3L361.5 187.6L362.5 187.8L363.5 188.0L364.5 188.3L365.5 188.5L366.5 188.7L367.5 188.9L368.5 189.2L369.5 189.4L370.5 189.6L371.5 189.8L372.5 190.0L373.5 190.2L374.5 190.4L375.5 190.6L376.5 190.8L377.5 191.0L378.5 191.2L379.5 191.4L380.5 191.6L381.5 191.8L382.5 192.0L383.5 192.2L384.5 192.4L385.5 192.6L386.5 192.8L387.5 193.0L388.5 193.2L389.5 193.4L390.5 193.6L391.5 193.8L392.5 194.0L393.5 194.1L394.5 194.3L395.5 194.5L396.5 194.7L397.5 194.9L398.5 195.1L399.5 195.2L400.5 195.4L401.5 195.6L402.5 195.7L403.5 195.9L404.5 196.1L405.5 196.3L406.5 196.4L407.5 196.6L408.5 196.7L409.5 196.9L410.5 197.1L411.5 197.2L412.5 197.4L413.5 197.5L414.5 197.7L415.5 197.8L416.5 197.9L417.5 198.1L418.5 198.2L419.5 198.4L420.5 198.5L421.5 198.6L422.5 198.8L423.5 198.9L424.5 199.0L425.5 199.1L426.5 199.2L427.5 199.3L428.5 199.5L429.5 199.6L430.5 199.7L431.5 199.8L432.5 199.9L433.5 200.0L434.5 200.0L435.5 200.1L436.5 200.2L437.5 200.3L438.5 200.4L439.5 200.4L440.5 200.5L441.5 200.6L442.5 200.6L443.5 200.7L444.5 200.7L445.5 200.8L446.5 200.8L447.5 200.8L448.5 200.9L449.5 200.9" fill="none" stroke="#00f" stroke-width="1.70" stroke-linejoin="round" stroke-dasharray="3.7 1.5" stroke-dashoffset="0.6"/>
</g>
<rect x="66.9" y="24.4" width="381.5" height="236.2" fill="none" stroke="#000" stroke-width="1.5"/>
<path d="M66.9 260.6v-2.4M66.9 24.4v2.4M124.3 260.6v-2.4M124.3 24.4v2.4M200.2 260.6v-2.4M200.2 24.4v2.4M257.6 260.6v-2.4M257.6 24.4v2.4M315.1 260.6v-2.4M315.1 24.4v2.4M391.0 260.6v-2.4M391.0 24.4v2.4M448.4 260.6v-2.4M448.4 24.4v2.4M157.9 260.6v-1.3M157.9 24.4v1.3M181.7 260.6v-1.3M181.7 24.4v1.3M215.3 260.6v-1.3M215.3 24.4v1.3M228.1 260.6v-1.3M228.1 24.4v1.3M239.2 260.6v-1.3M239.2 24.4v1.3M248.9 260.6v-1.3M248.9 24.4v1.3M348.7 260.6v-1.3M348.7 24.4v1.3M372.5 260.6v-1.3M372.5 24.4v1.3M406.1 260.6v-1.3M406.1 24.4v1.3M418.9 260.6v-1.3M418.9 24.4v1.3M429.9 260.6v-1.3M429.9 24.4v1.3M439.7 260.6v-1.3M439.7 24.4v1.3M66.9 254.1h1.4M448.4 254.1h-1.4M66.9 246.7h1.4M448.4 246.7h-1.4M66.9 239.3h1.4M448.4 239.3h-1.4M66.9 231.9h2.6M448.4 231.9h-2.6M66.9 224.5h1.4M448.4 224.5h-1.4M66.9 217.1h1.4M448.4 217.1h-1.4M66.9 209.7h1.4M448.4 209.7h-1.4M66.9 202.2h2.6M448.4 202.2h-2.6M66.9 194.8h1.4M448.4 194.8h-1.4M66.9 187.4h1.4M448.4 187.4h-1.4M66.9 180.0h1.4M448.4 180.0h-1.4M66.9 172.6h2.6M448.4 172.6h-2.6M66.9 165.2h1.4M448.4 165.2h-1.4M66.9 157.8h1.4M448.4 157.8h-1.4M66.9 150.4h1.4M448.4 150.4h-1.4M66.9 143.0h2.6M448.4 143.0h-2.6M66.9 135.5h1.4M448.4 135.5h-1.4M66.9 128.1h1.4M448.4 128.1h-1.4M66.9 120.7h1.4M448.4 120.7h-1.4M66.9 113.3h2.6M448.4 113.3h-2.6M66.9 105.9h1.4M448.4 105.9h-1.4M66.9 98.5h1.4M448.4 98.5h-1.4M66.9 91.1h1.4M448.4 91.1h-1.4M66.9 83.7h2.6M448.4 83.7h-2.6M66.9 76.3h1.4M448.4 76.3h-1.4M66.9 68.9h1.4M448.4 68.9h-1.4M66.9 61.4h1.4M448.4 61.4h-1.4M66.9 54.0h2.6M448.4 54.0h-2.6M66.9 46.6h1.4M448.4 46.6h-1.4M66.9 39.2h1.4M448.4 39.2h-1.4M66.9 31.8h1.4M448.4 31.8h-1.4M66.9 24.4h2.6M448.4 24.4h-2.6" stroke="#000" stroke-width="1.1" fill="none"/>
<g font-family="Liberation Serif, serif" font-size="18" fill="#000">
<text x="67.4" y="279.6" text-anchor="middle">1</text>
<text x="124.8" y="279.6" text-anchor="middle">2</text>
<text x="200.7" y="279.6" text-anchor="middle">5</text>
<text x="258.1" y="279.6" text-anchor="middle">10</text>
<text x="315.6" y="279.6" text-anchor="middle">20</text>
<text x="391.5" y="279.6" text-anchor="middle">50</text>
<text x="448.9" y="279.6" text-anchor="middle">100</text>
<text x="64.6" y="238.3" text-anchor="end">0.2</text>
<text x="64.6" y="208.6" text-anchor="end">0.4</text>
<text x="64.6" y="179.0" text-anchor="end">0.6</text>
<text x="64.6" y="149.4" text-anchor="end">0.8</text>
<text x="64.6" y="119.7" text-anchor="end">1.0</text>
<text x="64.6" y="90.1" text-anchor="end">1.2</text>
<text x="64.6" y="60.4" text-anchor="end">1.4</text>
<text x="64.6" y="30.8" text-anchor="end">1.6</text>
<text x="218.5" y="306.3" font-style="italic">R</text>
<text x="230.6" y="309.2" font-style="italic" font-size="13">e</text>
<text x="236.6" y="306.3">,</text>
<text x="245.1" y="306.3">10</text>
<text x="263.4" y="299.2" font-size="14.5">3</text>
<text x="274.6" y="306.3">km</text>
<text x="7.6" y="133.6" font-style="italic" font-size="19">M</text>
<text x="3.2" y="159.6" font-style="italic" font-size="19">M</text>
<path d="M2 140.3H29" stroke="#000" stroke-width="1"/>
<circle cx="24.3" cy="158.6" r="4.0" fill="none" stroke="#000" stroke-width="0.8"/><circle cx="24.3" cy="158.6" r="0.9" fill="#000"/>
</g>
<g font-family="Liberation Serif, serif" font-size="12" fill="#000">
<path d="M85.2 98.6H97.8" stroke="#000" stroke-width="1.4"/>
<text x="102.3" y="102.5">Static T=0 K</text>
<path d="M85.2 113.5H97.8" stroke="#000" stroke-width="1.4" stroke-dasharray="3.6 0.9"/>
<text x="102.3" y="116.8">Rotating T=0 K</text>
<path d="M85.2 129.0H97.8" stroke="#f00" stroke-width="1.4"/>
<text x="102.3" y="133.8">Static T=10<tspan font-size="8.5" dy="-5.3">6</tspan><tspan dy="5.3" dx="0.8">K</tspan></text>
<path d="M85.2 144.0H97.8" stroke="#f00" stroke-width="1.4" stroke-dasharray="3.6 0.9"/>
<text x="102.3" y="148.0">Rotating T=10<tspan font-size="8.5" dy="-5.3">6</tspan><tspan dy="5.3" dx="0.8">K</tspan></text>
<path d="M85.2 159.2H97.8" stroke="#ff8000" stroke-width="1.4"/>
<text x="102.3" y="163.9">Static T=10<tspan font-size="8.5" dy="-5.3">7</tspan><tspan dy="5.3" dx="0.8">K</tspan></text>
<path d="M85.2 174.2H97.8" stroke="#ff8000" stroke-width="1.4" stroke-dasharray="3.6 0.9"/>
<text x="102.3" y="178.0">Rotating T=10<tspan font-size="8.5" dy="-5.3">7</tspan><tspan dy="5.3" dx="0.8">K</tspan></text>
<path d="M85.2 188.9H97.8" stroke="#0f0" stroke-width="1.4"/>
<text x="102.3" y="193.8">Static T=4<tspan font-size="16.5" dx="-0.7" dy="0.9">×</tspan><tspan dx="-0.5" dy="-0.9">10</tspan><tspan font-size="8.5" dy="-5.3">7</tspan><tspan dy="5.3" dx="0.8">K</tspan></text>
<path d="M85.2 203.8H97.8" stroke="#0f0" stroke-width="1.4" stroke-dasharray="3.6 0.9"/>
<text x="102.3" y="207.6">Rotating T=4<tspan font-size="16.5" dx="-0.7" dy="0.9">×</tspan><tspan dx="-0.5" dy="-0.9">10</tspan><tspan font-size="8.5" dy="-5.3">7</tspan><tspan dy="5.3" dx="0.8">K</tspan></text>
<path d="M85.2 219.6H97.8" stroke="#00f" stroke-width="1.4"/>
<text x="102.3" y="224.0">Static T=10<tspan font-size="8.5" dy="-5.3">8</tspan><tspan dy="5.3" dx="0.8">K</tspan></text>
<path d="M85.2 234.7H97.8" stroke="#00f" stroke-width="1.4" stroke-dasharray="3.6 0.9"/>
<text x="102.3" y="238.0">Rotating T=10<tspan font-size="8.5" dy="-5.3">8</tspan><tspan dy="5.3" dx="0.8">K</tspan></text>
</g>
</svg></body></html>
